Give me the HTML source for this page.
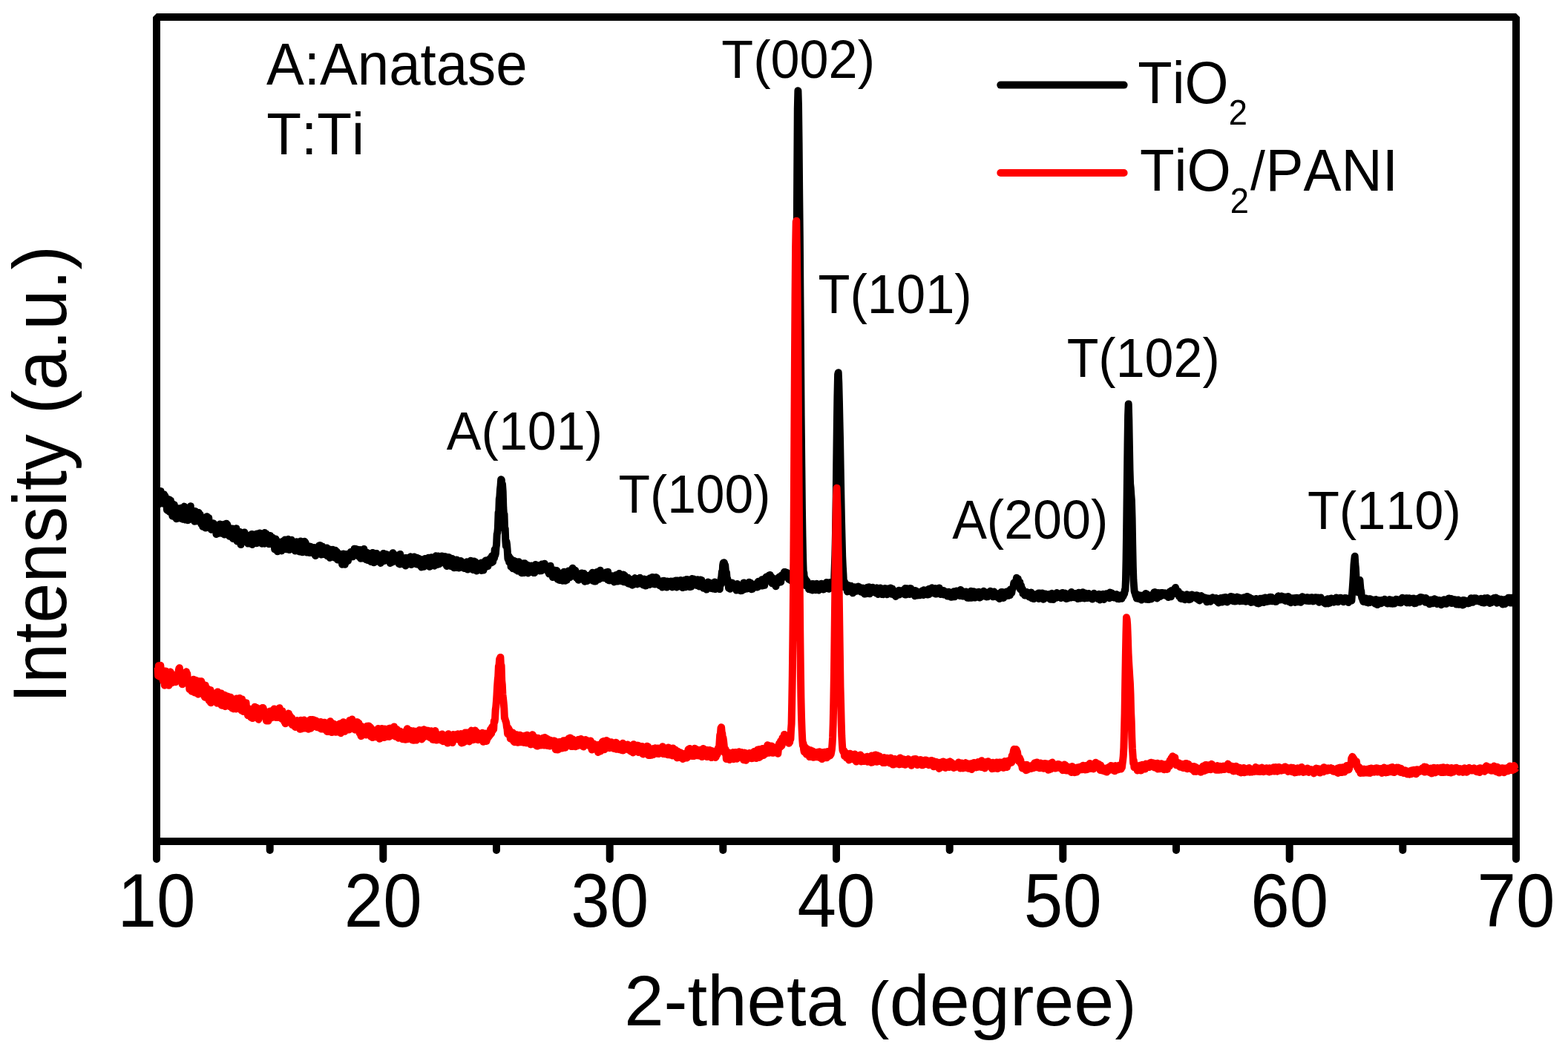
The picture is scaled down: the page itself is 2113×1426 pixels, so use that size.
<!DOCTYPE html>
<html><head><meta charset="utf-8"><title>XRD TiO2 / TiO2-PANI</title>
<style>
html,body{margin:0;padding:0;background:#fff;}
svg{display:block;}
text{font-family:"Liberation Sans",Arial,sans-serif;font-kerning:none;fill:#000;}
</style></head><body>
<svg width="2113" height="1426" viewBox="0 0 2113 1426">
<rect width="2113" height="1426" fill="#fff"/>
<rect x="211" y="23" width="1832" height="1111" fill="none" stroke="#000" stroke-width="10" stroke-linejoin="bevel"/>
<g fill="none" stroke-linejoin="round">
<path d="M211.0 669.6L211.6 678.9 212.2 663.0 212.8 680.4 213.4 666.8 214.1 669.1 214.7 678.5 215.3 669.2 215.9 672.6 216.5 662.0 217.1 676.6 217.7 672.6 218.3 668.9 218.9 678.6 219.5 668.3 220.2 672.7 220.8 666.3 221.4 671.4 222.0 667.6 222.6 669.0 223.2 679.6 223.8 673.3 224.4 678.3 225.0 687.4 225.6 687.8 226.3 683.6 226.9 680.9 227.5 675.7 228.1 673.3 228.7 690.0 229.3 682.3 229.9 674.8 230.5 687.9 231.1 691.0 231.7 688.7 232.4 695.7 233.0 679.4 233.6 689.2 234.2 687.4 234.8 680.5 235.4 691.7 236.0 696.6 236.6 691.9 237.2 685.5 237.8 699.2 238.5 692.7 239.1 691.4 239.7 695.7 240.3 685.2 240.9 698.4 241.5 694.8 242.1 696.2 242.7 685.4 243.3 697.8 243.9 687.2 244.6 684.5 245.2 699.2 245.8 698.4 246.4 699.8 247.0 691.0 247.6 687.1 248.2 682.6 248.8 695.1 249.4 697.2 250.0 700.6 250.7 688.9 251.3 687.1 251.9 694.9 252.5 698.3 253.1 701.2 253.7 685.5 254.3 690.6 254.9 698.1 255.5 688.0 256.1 692.4 256.8 682.3 257.4 695.8 258.0 699.3 258.6 698.1 259.2 699.7 259.8 697.0 260.4 689.5 261.0 699.7 261.6 689.3 262.2 702.7 262.9 688.9 263.5 702.6 264.1 690.5 264.7 695.2 265.3 694.5 265.9 702.2 266.5 693.3 267.1 698.3 267.7 690.9 268.3 693.8 269.0 698.3 269.6 693.4 270.2 703.3 270.8 699.4 271.4 706.5 272.0 705.3 272.6 700.8 273.2 709.7 273.8 705.4 274.4 708.9 275.1 699.1 275.7 703.2 276.3 698.0 276.9 711.6 277.5 698.1 278.1 699.4 278.7 696.2 279.3 700.0 279.9 707.6 280.5 707.6 281.2 697.9 281.8 702.9 282.4 703.9 283.0 708.1 283.6 705.5 284.2 708.1 284.8 713.9 285.4 712.8 286.0 708.2 286.6 708.8 287.3 708.6 287.9 705.3 288.5 706.6 289.1 707.7 289.7 709.5 290.3 710.4 290.9 714.9 291.5 720.1 292.1 717.7 292.7 717.1 293.4 715.9 294.0 713.5 294.6 718.9 295.2 716.1 295.8 713.1 296.4 706.4 297.0 714.1 297.6 709.4 298.2 709.3 298.8 715.7 299.5 719.1 300.1 710.9 300.7 718.8 301.3 713.7 301.9 706.7 302.5 720.5 303.1 711.0 303.7 710.4 304.3 719.5 304.9 705.8 305.6 716.4 306.2 706.9 306.8 711.5 307.4 709.8 308.0 720.5 308.6 713.3 309.2 722.7 309.8 718.0 310.4 720.2 311.0 718.2 311.7 714.6 312.3 715.4 312.9 724.4 313.5 712.4 314.1 726.0 314.7 724.2 315.3 717.2 315.9 722.6 316.5 717.3 317.1 718.6 317.8 720.6 318.4 712.2 319.0 719.9 319.6 729.6 320.2 718.7 320.8 727.2 321.4 722.5 322.0 718.7 322.6 729.9 323.2 717.1 323.9 722.1 324.5 734.1 325.1 721.6 325.7 730.7 326.3 725.1 326.9 729.5 327.5 728.1 328.1 723.3 328.7 730.1 329.3 717.6 330.0 724.4 330.6 723.8 331.2 725.4 331.8 720.6 332.4 722.1 333.0 727.9 333.6 725.3 334.2 732.6 334.8 728.3 335.4 732.5 336.1 729.4 336.7 727.8 337.3 723.7 337.9 731.6 338.5 722.8 339.1 720.0 339.7 733.9 340.3 727.9 340.9 732.2 341.5 729.5 342.2 730.5 342.8 720.4 343.4 721.9 344.0 729.7 344.6 728.2 345.2 720.7 345.8 732.2 346.4 719.4 347.0 725.4 347.6 719.5 348.3 729.3 348.9 722.0 349.5 719.6 350.1 718.4 350.7 720.3 351.3 721.3 351.9 726.9 352.5 724.2 353.1 732.7 353.7 731.7 354.4 729.9 355.0 728.3 355.6 731.1 356.2 732.7 356.8 717.9 357.4 719.3 358.0 722.8 358.6 719.5 359.2 727.1 359.8 723.4 360.5 723.9 361.1 724.9 361.7 723.3 362.3 733.3 362.9 732.0 363.5 730.0 364.1 722.1 364.7 728.5 365.3 733.1 365.9 726.1 366.6 729.9 367.2 724.8 367.8 726.9 368.4 728.5 369.0 732.4 369.6 733.7 370.2 740.3 370.8 730.9 371.4 726.5 372.0 738.6 372.7 728.5 373.3 730.1 373.9 743.2 374.5 740.3 375.1 734.3 375.7 731.2 376.3 735.2 376.9 733.8 377.5 741.7 378.1 734.9 378.8 730.6 379.4 742.4 380.0 737.5 380.6 730.0 381.2 729.6 381.8 734.6 382.4 728.8 383.0 736.2 383.6 735.9 384.2 727.4 384.9 738.3 385.5 738.4 386.1 740.3 386.7 736.9 387.3 737.7 387.9 728.9 388.5 726.8 389.1 727.9 389.7 741.1 390.3 735.3 391.0 740.4 391.6 732.0 392.2 737.5 392.8 727.7 393.4 730.0 394.0 732.0 394.6 736.7 395.2 737.6 395.8 736.9 396.4 735.5 397.1 737.0 397.7 742.5 398.3 735.6 398.9 741.2 399.5 730.2 400.1 735.1 400.7 736.7 401.3 737.8 401.9 733.5 402.5 735.7 403.2 743.4 403.8 738.2 404.4 737.1 405.0 729.6 405.6 730.1 406.2 732.3 406.8 731.5 407.4 744.2 408.0 730.2 408.6 734.8 409.3 729.9 409.9 738.3 410.5 729.8 411.1 730.7 411.7 731.6 412.3 736.9 412.9 741.6 413.5 744.6 414.1 737.1 414.7 737.2 415.4 744.7 416.0 744.5 416.6 736.5 417.2 745.1 417.8 744.9 418.4 736.7 419.0 744.5 419.6 737.7 420.2 738.6 420.8 741.8 421.5 742.1 422.1 742.4 422.7 742.4 423.3 738.0 423.9 747.2 424.5 740.4 425.1 748.9 425.7 743.9 426.3 740.4 426.9 738.7 427.6 741.5 428.2 740.4 428.8 743.6 429.4 741.6 430.0 735.4 430.6 746.6 431.2 735.1 431.8 746.1 432.4 745.8 433.0 747.6 433.7 743.9 434.3 736.4 434.9 743.1 435.5 743.3 436.1 747.0 436.7 744.1 437.3 746.8 437.9 740.2 438.5 743.0 439.1 744.2 439.8 742.6 440.4 738.4 441.0 749.3 441.6 746.3 442.2 748.8 442.8 742.2 443.4 750.1 444.0 748.6 444.6 751.8 445.2 740.7 445.9 745.0 446.5 743.8 447.1 746.6 447.7 742.4 448.3 740.8 448.9 745.1 449.5 747.9 450.1 743.0 450.7 751.4 451.3 743.1 452.0 741.7 452.6 750.1 453.2 746.2 453.8 743.6 454.4 744.3 455.0 754.5 455.6 754.6 456.2 751.6 456.8 747.0 457.4 753.7 458.1 746.8 458.7 749.0 459.3 753.1 459.9 751.3 460.5 752.6 461.1 760.7 461.7 750.2 462.3 756.1 462.9 746.6 463.5 747.3 464.2 749.7 464.8 760.7 465.4 757.2 466.0 758.3 466.6 746.9 467.2 756.0 467.8 753.0 468.4 752.1 469.0 755.7 469.6 749.9 470.3 751.9 470.9 748.1 471.5 748.8 472.1 750.6 472.7 743.9 473.3 744.9 473.9 745.9 474.5 745.9 475.1 750.4 475.7 746.4 476.4 745.2 477.0 748.9 477.6 739.8 478.2 739.7 478.8 743.7 479.4 740.0 480.0 745.8 480.6 745.6 481.2 740.5 481.8 748.6 482.5 746.5 483.1 743.1 483.7 750.3 484.3 750.2 484.9 741.5 485.5 741.1 486.1 752.7 486.7 742.7 487.3 749.6 487.9 743.4 488.6 743.8 489.2 746.9 489.8 752.5 490.4 740.0 491.0 742.7 491.6 750.1 492.2 746.5 492.8 745.0 493.4 754.3 494.0 744.5 494.7 751.2 495.3 754.9 495.9 752.4 496.5 751.4 497.1 751.5 497.7 751.9 498.3 745.9 498.9 751.2 499.5 754.2 500.1 756.9 500.8 756.8 501.4 756.3 502.0 745.1 502.6 750.1 503.2 751.7 503.8 758.3 504.4 752.7 505.0 750.5 505.6 746.1 506.2 748.8 506.9 756.8 507.5 746.0 508.1 748.7 508.7 750.3 509.3 753.5 509.9 750.7 510.5 756.4 511.1 748.5 511.7 754.0 512.3 756.9 513.0 758.9 513.6 757.5 514.2 748.2 514.8 757.0 515.4 753.6 516.0 750.9 516.6 746.0 517.2 748.0 517.8 755.9 518.4 746.8 519.1 750.9 519.7 748.9 520.3 755.1 520.9 749.9 521.5 747.3 522.1 749.9 522.7 749.1 523.3 754.5 523.9 749.8 524.5 755.2 525.2 753.1 525.8 759.0 526.4 755.9 527.0 751.7 527.6 752.5 528.2 752.1 528.8 757.6 529.4 745.3 530.0 748.8 530.6 751.4 531.3 750.1 531.9 752.9 532.5 751.4 533.1 750.4 533.7 754.1 534.3 748.8 534.9 753.0 535.5 755.8 536.1 748.2 536.7 750.0 537.4 759.6 538.0 760.1 538.6 760.4 539.2 746.9 539.8 758.2 540.4 760.0 541.0 759.4 541.6 758.2 542.2 757.0 542.8 758.4 543.5 757.7 544.1 760.7 544.7 758.1 545.3 754.3 545.9 752.0 546.5 762.5 547.1 760.6 547.7 751.9 548.3 761.1 548.9 754.2 549.6 758.2 550.2 755.1 550.8 752.5 551.4 751.7 552.0 751.3 552.6 750.8 553.2 750.4 553.8 751.0 554.4 760.9 555.0 756.2 555.7 751.4 556.3 756.8 556.9 754.8 557.5 754.5 558.1 750.5 558.7 753.4 559.3 759.5 559.9 751.4 560.5 753.9 561.1 760.4 561.8 751.8 562.4 757.4 563.0 755.0 563.6 759.5 564.2 752.8 564.8 756.8 565.4 754.3 566.0 761.8 566.6 762.9 567.2 759.2 567.9 764.4 568.5 760.7 569.1 761.7 569.7 763.0 570.3 754.0 570.9 763.8 571.5 755.8 572.1 758.0 572.7 752.9 573.3 761.9 574.0 754.5 574.6 760.7 575.2 754.5 575.8 756.1 576.4 756.1 577.0 753.2 577.6 751.7 578.2 762.1 578.8 763.8 579.4 755.3 580.1 753.6 580.7 755.9 581.3 751.2 581.9 758.8 582.5 754.4 583.1 757.1 583.7 761.8 584.3 760.8 584.9 761.8 585.5 762.7 586.2 757.5 586.8 756.3 587.4 749.3 588.0 750.9 588.6 756.4 589.2 761.0 589.8 754.5 590.4 749.5 591.0 752.5 591.6 760.2 592.3 751.7 592.9 751.4 593.5 752.1 594.1 756.2 594.7 758.6 595.3 749.6 595.9 753.7 596.5 753.2 597.1 751.9 597.7 754.2 598.4 757.5 599.0 750.3 599.6 755.7 600.2 750.3 600.8 756.0 601.4 759.5 602.0 763.0 602.6 756.5 603.2 754.2 603.8 757.9 604.5 754.9 605.1 751.1 605.7 756.7 606.3 760.8 606.9 761.6 607.5 763.0 608.1 754.6 608.7 754.2 609.3 752.9 609.9 757.4 610.6 763.6 611.2 756.1 611.8 765.3 612.4 762.9 613.0 756.5 613.6 762.6 614.2 764.8 614.8 765.1 615.4 754.5 616.0 763.4 616.7 762.8 617.3 755.7 617.9 756.2 618.5 765.4 619.1 757.9 619.7 757.9 620.3 764.0 620.9 756.0 621.5 760.4 622.1 759.7 622.8 761.6 623.4 763.1 624.0 762.6 624.6 759.5 625.2 766.0 625.8 764.1 626.4 765.6 627.0 758.9 627.6 764.1 628.2 759.2 628.9 757.3 629.5 762.5 630.1 767.5 630.7 765.5 631.3 758.6 631.9 758.0 632.5 764.5 633.1 763.3 633.7 765.1 634.3 755.8 635.0 766.4 635.6 760.7 636.2 758.2 636.8 759.2 637.4 768.0 638.0 768.1 638.6 756.6 639.2 760.2 639.8 766.4 640.4 757.2 641.1 758.2 641.7 759.1 642.3 769.5 642.9 761.3 643.5 761.2 644.1 766.8 644.7 761.2 645.3 766.2 645.9 761.2 646.5 760.2 647.2 762.2 647.8 759.6 648.4 758.5 649.0 769.0 649.6 768.5 650.2 761.3 650.8 765.5 651.4 768.6 652.0 760.6 652.6 764.2 653.3 765.1 653.9 756.1 654.5 755.5 655.1 763.0 655.7 762.7 656.3 755.3 656.9 763.2 657.5 763.1 658.1 757.2 658.7 756.6 659.4 753.9 660.0 756.6 660.6 752.5 661.2 758.3 661.8 758.7 662.4 756.9 663.0 749.4 663.6 756.0 664.2 757.2 664.8 747.9 665.5 752.5 666.1 752.2 666.7 740.7 667.3 748.3 667.9 745.8 668.5 737.6 669.1 734.0 669.7 720.2 670.3 717.9 670.9 711.9 671.6 691.0 672.2 690.8 672.8 672.4 673.4 669.5 674.0 659.7 674.6 654.7 675.2 646.2 675.8 646.6 676.4 656.5 677.0 652.8 677.7 662.7 678.3 683.6 678.9 693.2 679.5 693.0 680.1 713.2 680.7 712.2 681.3 728.6 681.9 736.0 682.5 730.1 683.1 734.2 683.8 742.7 684.4 752.8 685.0 754.3 685.6 749.8 686.2 757.8 686.8 751.5 687.4 753.1 688.0 752.7 688.6 763.9 689.2 761.8 689.9 758.7 690.5 756.5 691.1 766.2 691.7 759.1 692.3 755.7 692.9 759.5 693.5 763.5 694.1 764.9 694.7 756.7 695.3 768.1 696.0 765.5 696.6 757.6 697.2 767.2 697.8 769.6 698.4 768.5 699.0 757.2 699.6 763.5 700.2 764.5 700.8 769.6 701.4 765.2 702.1 761.0 702.7 772.2 703.3 772.2 703.9 765.4 704.5 759.5 705.1 769.8 705.7 768.9 706.3 772.0 706.9 759.2 707.5 765.3 708.2 763.3 708.8 761.6 709.4 769.7 710.0 765.2 710.6 761.5 711.2 763.0 711.8 772.4 712.4 770.4 713.0 765.2 713.6 770.9 714.3 763.7 714.9 770.6 715.5 771.1 716.1 762.4 716.7 768.2 717.3 769.9 717.9 771.0 718.5 770.2 719.1 772.1 719.7 770.3 720.4 772.1 721.0 765.3 721.6 760.9 722.2 763.8 722.8 765.1 723.4 761.7 724.0 762.4 724.6 767.0 725.2 763.0 725.8 763.1 726.5 768.5 727.1 769.4 727.7 768.6 728.3 762.6 728.9 767.3 729.5 769.3 730.1 760.4 730.7 760.9 731.3 767.9 731.9 763.3 732.6 762.8 733.2 764.0 733.8 759.8 734.4 766.2 735.0 762.2 735.6 764.7 736.2 765.1 736.8 766.1 737.4 763.5 738.0 768.7 738.7 770.8 739.3 766.4 739.9 773.3 740.5 773.0 741.1 766.2 741.7 762.7 742.3 772.4 742.9 766.8 743.5 768.4 744.1 771.9 744.8 778.0 745.4 769.4 746.0 771.1 746.6 772.5 747.2 774.5 747.8 768.6 748.4 774.1 749.0 774.3 749.6 775.9 750.2 769.0 750.9 769.8 751.5 780.7 752.1 779.4 752.7 779.6 753.3 781.0 753.9 781.9 754.5 775.6 755.1 781.0 755.7 779.7 756.3 779.4 757.0 781.1 757.6 776.1 758.2 782.8 758.8 776.8 759.4 773.6 760.0 770.7 760.6 778.4 761.2 774.4 761.8 782.7 762.4 772.1 763.1 774.1 763.7 781.7 764.3 775.1 764.9 779.5 765.5 778.6 766.1 769.5 766.7 770.8 767.3 772.1 767.9 778.0 768.5 770.6 769.2 771.9 769.8 771.5 770.4 769.3 771.0 775.0 771.6 765.7 772.2 768.1 772.8 776.1 773.4 774.2 774.0 772.5 774.6 770.2 775.3 768.7 775.9 772.9 776.5 778.5 777.1 775.0 777.7 774.8 778.3 780.0 778.9 779.4 779.5 781.7 780.1 781.4 780.7 777.7 781.4 774.1 782.0 778.5 782.6 775.1 783.2 780.6 783.8 772.4 784.4 776.3 785.0 781.0 785.6 776.9 786.2 779.4 786.8 773.1 787.5 776.0 788.1 783.7 788.7 779.9 789.3 776.8 789.9 778.5 790.5 781.6 791.1 781.7 791.7 782.9 792.3 775.9 792.9 775.8 793.6 780.2 794.2 778.9 794.8 778.9 795.4 775.1 796.0 775.6 796.6 780.0 797.2 775.1 797.8 780.0 798.4 771.7 799.0 782.7 799.7 774.4 800.3 778.3 800.9 783.6 801.5 775.3 802.1 775.0 802.7 783.4 803.3 781.7 803.9 776.3 804.5 771.0 805.1 777.3 805.8 773.0 806.4 773.1 807.0 780.8 807.6 776.4 808.2 773.2 808.8 768.8 809.4 772.7 810.0 779.2 810.6 772.4 811.2 773.8 811.9 777.9 812.5 773.0 813.1 776.9 813.7 779.0 814.3 773.8 814.9 775.9 815.5 776.6 816.1 774.7 816.7 772.7 817.3 771.2 818.0 776.3 818.6 781.2 819.2 770.8 819.8 780.6 820.4 782.3 821.0 777.3 821.6 782.4 822.2 779.5 822.8 778.9 823.4 779.5 824.1 779.5 824.7 781.8 825.3 776.2 825.9 781.7 826.5 778.6 827.1 780.1 827.7 784.4 828.3 776.2 828.9 778.7 829.5 777.2 830.2 774.9 830.8 780.8 831.4 779.9 832.0 783.6 832.6 779.8 833.2 777.2 833.8 782.7 834.4 773.1 835.0 776.4 835.6 781.8 836.3 774.9 836.9 777.2 837.5 783.3 838.1 777.4 838.7 775.0 839.3 783.1 839.9 774.5 840.5 784.2 841.1 777.2 841.7 775.5 842.4 779.0 843.0 778.9 843.6 784.8 844.2 782.9 844.8 779.9 845.4 780.8 846.0 778.5 846.6 786.5 847.2 781.1 847.8 786.3 848.5 783.5 849.1 787.3 849.7 780.9 850.3 782.8 850.9 782.9 851.5 788.2 852.1 788.8 852.7 787.1 853.3 782.5 853.9 787.7 854.6 785.7 855.2 783.1 855.8 779.1 856.4 780.6 857.0 786.2 857.6 780.8 858.2 784.5 858.8 787.4 859.4 784.7 860.0 784.6 860.7 780.9 861.3 779.8 861.9 779.3 862.5 778.7 863.1 781.5 863.7 786.8 864.3 785.3 864.9 782.4 865.5 782.5 866.1 784.5 866.8 788.4 867.4 786.9 868.0 780.5 868.6 785.4 869.2 781.6 869.8 789.5 870.4 789.4 871.0 785.6 871.6 787.2 872.2 786.3 872.9 787.4 873.5 781.1 874.1 780.5 874.7 786.3 875.3 788.0 875.9 779.2 876.5 783.0 877.1 782.2 877.7 781.3 878.3 786.0 879.0 777.9 879.6 780.6 880.2 781.4 880.8 787.2 881.4 783.6 882.0 783.7 882.6 787.5 883.2 778.3 883.8 782.8 884.4 778.2 885.1 778.8 885.7 785.2 886.3 786.4 886.9 785.0 887.5 784.8 888.1 787.4 888.7 789.1 889.3 788.6 889.9 787.8 890.5 783.8 891.2 788.3 891.8 783.3 892.4 791.5 893.0 783.1 893.6 790.7 894.2 783.6 894.8 782.8 895.4 784.0 896.0 785.9 896.6 783.3 897.3 783.6 897.9 791.0 898.5 791.6 899.1 783.4 899.7 786.4 900.3 785.9 900.9 790.4 901.5 788.7 902.1 785.7 902.7 789.3 903.4 787.6 904.0 783.4 904.6 790.2 905.2 786.2 905.8 791.4 906.4 788.9 907.0 783.4 907.6 789.4 908.2 788.5 908.8 787.5 909.5 785.8 910.1 789.2 910.7 782.4 911.3 787.7 911.9 791.5 912.5 783.3 913.1 782.4 913.7 785.3 914.3 786.6 914.9 785.4 915.6 787.0 916.2 789.0 916.8 790.2 917.4 782.0 918.0 786.3 918.6 788.7 919.2 782.5 919.8 792.1 920.4 789.0 921.0 786.9 921.7 786.2 922.3 782.0 922.9 781.8 923.5 788.9 924.1 791.2 924.7 789.7 925.3 780.9 925.9 780.9 926.5 785.7 927.1 787.7 927.8 787.8 928.4 790.5 929.0 790.7 929.6 791.1 930.2 783.6 930.8 784.6 931.4 790.7 932.0 787.3 932.6 780.0 933.2 788.8 933.9 785.5 934.5 780.5 935.1 782.6 935.7 784.8 936.3 785.8 936.9 783.7 937.5 787.3 938.1 785.1 938.7 789.0 939.3 788.4 940.0 781.2 940.6 781.6 941.2 789.6 941.8 786.9 942.4 790.4 943.0 785.0 943.6 782.3 944.2 781.4 944.8 789.7 945.4 782.0 946.1 788.6 946.7 787.3 947.3 789.8 947.9 792.7 948.5 785.8 949.1 788.9 949.7 792.7 950.3 786.2 950.9 786.2 951.5 786.8 952.2 794.6 952.8 793.2 953.4 786.1 954.0 784.4 954.6 790.2 955.2 787.2 955.8 785.2 956.4 785.6 957.0 788.4 957.6 787.0 958.3 793.1 958.9 789.1 959.5 792.6 960.1 792.8 960.7 793.6 961.3 789.9 961.9 791.2 962.5 790.3 963.1 784.4 963.7 794.1 964.4 785.2 965.0 789.1 965.6 790.8 966.2 791.5 966.8 788.6 967.4 790.3 968.0 792.9 968.6 791.5 969.2 792.0 969.8 794.1 970.5 784.7 971.1 788.2 971.7 780.0 972.3 777.7 972.9 770.6 973.5 773.7 974.1 761.8 974.7 758.6 975.3 759.2 975.9 758.3 976.6 762.5 977.2 761.7 977.8 768.6 978.4 775.1 979.0 772.0 979.6 780.2 980.2 779.8 980.8 787.0 981.4 785.7 982.0 792.6 982.7 788.8 983.3 786.0 983.9 793.7 984.5 789.0 985.1 785.5 985.7 788.1 986.3 789.5 986.9 785.8 987.5 786.9 988.1 789.4 988.8 790.2 989.4 791.3 990.0 790.9 990.6 791.2 991.2 792.6 991.8 791.8 992.4 795.6 993.0 795.4 993.6 787.1 994.2 788.5 994.9 788.3 995.5 790.0 996.1 790.4 996.7 795.1 997.3 794.7 997.9 796.3 998.5 793.2 999.1 792.8 999.7 796.1 1000.3 792.0 1001.0 789.8 1001.6 788.2 1002.2 785.5 1002.8 794.4 1003.4 792.2 1004.0 788.9 1004.6 793.6 1005.2 791.9 1005.8 788.9 1006.4 793.6 1007.1 793.1 1007.7 788.2 1008.3 788.2 1008.9 785.3 1009.5 784.7 1010.1 787.4 1010.7 787.0 1011.3 785.5 1011.9 791.9 1012.5 794.2 1013.2 791.5 1013.8 794.0 1014.4 793.2 1015.0 791.4 1015.6 790.2 1016.2 788.3 1016.8 790.3 1017.4 788.1 1018.0 787.3 1018.6 790.3 1019.3 791.0 1019.9 790.2 1020.5 791.5 1021.1 787.0 1021.7 783.8 1022.3 785.1 1022.9 786.3 1023.5 789.1 1024.1 787.3 1024.7 789.6 1025.4 785.0 1026.0 787.0 1026.6 781.3 1027.2 788.2 1027.8 789.5 1028.4 789.2 1029.0 788.8 1029.6 781.3 1030.2 788.8 1030.8 783.7 1031.5 779.8 1032.1 778.2 1032.7 777.4 1033.3 782.4 1033.9 781.5 1034.5 782.2 1035.1 780.9 1035.7 779.4 1036.3 775.4 1036.9 781.4 1037.6 775.0 1038.2 781.8 1038.8 776.9 1039.4 777.4 1040.0 785.6 1040.6 786.4 1041.2 784.1 1041.8 780.2 1042.4 783.2 1043.0 782.1 1043.7 780.2 1044.3 781.6 1044.9 780.3 1045.5 790.2 1046.1 782.6 1046.7 783.4 1047.3 781.5 1047.9 785.1 1048.5 783.9 1049.1 785.3 1049.8 777.8 1050.4 779.3 1051.0 782.7 1051.6 782.4 1052.2 784.5 1052.8 775.8 1053.4 778.4 1054.0 777.8 1054.6 777.9 1055.2 775.9 1055.9 778.1 1056.5 771.9 1057.1 770.9 1057.7 773.0 1058.3 771.0 1058.9 774.0 1059.5 776.7 1060.1 771.8 1060.7 775.8 1061.3 777.3 1062.0 777.8 1062.6 773.3 1063.2 780.9 1063.8 781.1 1064.4 777.8 1065.0 779.0 1065.6 781.9 1066.2 782.7 1066.8 776.3 1067.4 779.8 1068.1 775.1 1068.7 778.2 1069.3 774.0 1069.9 761.7 1070.5 745.8 1071.1 718.3 1071.7 670.8 1072.3 582.9 1072.9 479.0 1073.5 356.1 1074.2 238.5 1074.8 147.1 1075.4 122.2 1076.0 142.2 1076.6 192.3 1077.2 261.4 1077.8 318.6 1078.4 399.1 1079.0 473.7 1079.6 560.9 1080.3 628.7 1080.9 685.2 1081.5 723.6 1082.1 752.5 1082.7 771.4 1083.3 771.9 1083.9 781.7 1084.5 778.8 1085.1 781.7 1085.7 789.3 1086.4 782.3 1087.0 789.5 1087.6 783.7 1088.2 789.6 1088.8 791.0 1089.4 787.2 1090.0 794.1 1090.6 788.6 1091.2 791.1 1091.8 789.1 1092.5 794.7 1093.1 790.8 1093.7 790.2 1094.3 787.0 1094.9 795.5 1095.5 786.9 1096.1 789.4 1096.7 793.1 1097.3 790.2 1097.9 792.1 1098.6 790.1 1099.2 795.3 1099.8 788.3 1100.4 786.7 1101.0 787.6 1101.6 791.2 1102.2 792.4 1102.8 794.3 1103.4 795.5 1104.0 790.2 1104.7 793.9 1105.3 790.1 1105.9 789.1 1106.5 786.7 1107.1 794.1 1107.7 788.9 1108.3 790.8 1108.9 789.6 1109.5 794.5 1110.1 788.1 1110.8 790.4 1111.4 792.5 1112.0 786.5 1112.6 792.4 1113.2 789.9 1113.8 785.0 1114.4 792.9 1115.0 788.0 1115.6 788.0 1116.2 790.8 1116.9 793.8 1117.5 786.5 1118.1 785.1 1118.7 790.5 1119.3 790.3 1119.9 787.9 1120.5 789.0 1121.1 792.0 1121.7 790.3 1122.3 787.2 1123.0 789.1 1123.6 787.0 1124.2 780.3 1124.8 762.9 1125.4 747.3 1126.0 718.7 1126.6 681.0 1127.2 628.0 1127.8 577.5 1128.4 535.9 1129.1 504.6 1129.7 502.2 1130.3 515.9 1130.9 539.8 1131.5 568.4 1132.1 594.5 1132.7 632.0 1133.3 666.2 1133.9 698.0 1134.5 722.6 1135.2 750.5 1135.8 763.6 1136.4 773.5 1137.0 787.2 1137.6 791.2 1138.2 784.7 1138.8 791.7 1139.4 786.7 1140.0 791.9 1140.6 793.5 1141.3 793.2 1141.9 797.4 1142.5 793.5 1143.1 789.0 1143.7 796.5 1144.3 790.4 1144.9 793.2 1145.5 792.4 1146.1 796.8 1146.7 789.8 1147.4 792.6 1148.0 793.7 1148.6 795.8 1149.2 799.3 1149.8 792.6 1150.4 793.0 1151.0 795.8 1151.6 791.2 1152.2 794.3 1152.8 793.5 1153.5 796.6 1154.1 796.1 1154.7 796.7 1155.3 794.6 1155.9 792.3 1156.5 790.5 1157.1 796.1 1157.7 793.1 1158.3 791.2 1158.9 794.7 1159.6 794.2 1160.2 797.6 1160.8 793.9 1161.4 794.6 1162.0 798.3 1162.6 797.9 1163.2 792.6 1163.8 796.2 1164.4 799.3 1165.0 800.6 1165.7 800.1 1166.3 794.6 1166.9 800.3 1167.5 793.1 1168.1 794.7 1168.7 791.8 1169.3 796.3 1169.9 797.8 1170.5 797.7 1171.1 791.3 1171.8 800.3 1172.4 793.3 1173.0 797.1 1173.6 798.4 1174.2 797.3 1174.8 795.0 1175.4 795.4 1176.0 791.8 1176.6 794.3 1177.2 798.0 1177.9 797.3 1178.5 797.5 1179.1 797.3 1179.7 794.2 1180.3 799.4 1180.9 793.7 1181.5 792.3 1182.1 797.3 1182.7 793.3 1183.3 800.9 1184.0 797.5 1184.6 793.4 1185.2 792.9 1185.8 798.2 1186.4 792.5 1187.0 793.2 1187.6 796.7 1188.2 797.6 1188.8 801.1 1189.4 794.2 1190.1 801.2 1190.7 796.6 1191.3 800.8 1191.9 793.8 1192.5 793.1 1193.1 795.9 1193.7 793.4 1194.3 796.6 1194.9 800.3 1195.5 801.3 1196.2 793.6 1196.8 795.4 1197.4 796.1 1198.0 794.4 1198.6 797.0 1199.2 793.3 1199.8 793.9 1200.4 792.5 1201.0 795.9 1201.6 800.8 1202.3 793.6 1202.9 800.8 1203.5 795.6 1204.1 800.4 1204.7 801.7 1205.3 799.3 1205.9 800.9 1206.5 800.5 1207.1 803.9 1207.7 802.9 1208.4 799.8 1209.0 798.3 1209.6 796.5 1210.2 799.8 1210.8 796.3 1211.4 795.8 1212.0 801.5 1212.6 799.4 1213.2 797.9 1213.8 800.4 1214.5 796.9 1215.1 796.3 1215.7 799.3 1216.3 799.4 1216.9 795.6 1217.5 795.7 1218.1 798.1 1218.7 795.3 1219.3 801.5 1219.9 793.1 1220.6 800.0 1221.2 801.4 1221.8 797.8 1222.4 793.2 1223.0 798.3 1223.6 794.9 1224.2 798.0 1224.8 795.3 1225.4 793.8 1226.0 800.9 1226.7 793.1 1227.3 793.2 1227.9 800.4 1228.5 800.6 1229.1 796.7 1229.7 797.4 1230.3 800.1 1230.9 799.1 1231.5 799.5 1232.1 797.7 1232.8 803.2 1233.4 796.0 1234.0 799.9 1234.6 796.5 1235.2 797.8 1235.8 798.4 1236.4 802.5 1237.0 801.2 1237.6 799.8 1238.2 802.1 1238.9 802.0 1239.5 802.2 1240.1 798.6 1240.7 800.1 1241.3 800.3 1241.9 796.8 1242.5 796.6 1243.1 801.1 1243.7 796.9 1244.3 802.1 1245.0 795.2 1245.6 796.9 1246.2 800.3 1246.8 795.8 1247.4 797.9 1248.0 796.9 1248.6 795.7 1249.2 795.2 1249.8 801.6 1250.4 796.2 1251.1 794.1 1251.7 801.1 1252.3 793.8 1252.9 798.6 1253.5 797.6 1254.1 798.0 1254.7 799.1 1255.3 794.0 1255.9 792.2 1256.5 796.2 1257.2 796.6 1257.8 794.2 1258.4 799.7 1259.0 793.9 1259.6 797.5 1260.2 797.5 1260.8 793.1 1261.4 800.6 1262.0 795.9 1262.6 797.4 1263.3 794.2 1263.9 796.6 1264.5 797.4 1265.1 798.4 1265.7 792.5 1266.3 796.4 1266.9 797.1 1267.5 801.0 1268.1 797.7 1268.7 798.5 1269.4 796.3 1270.0 796.4 1270.6 800.5 1271.2 795.9 1271.8 801.5 1272.4 798.4 1273.0 801.4 1273.6 799.1 1274.2 801.3 1274.8 801.0 1275.5 797.8 1276.1 798.0 1276.7 803.5 1277.3 798.0 1277.9 802.6 1278.5 797.8 1279.1 800.8 1279.7 799.1 1280.3 798.6 1280.9 798.5 1281.6 804.8 1282.2 802.4 1282.8 801.0 1283.4 801.9 1284.0 804.5 1284.6 802.4 1285.2 797.3 1285.8 798.3 1286.4 804.3 1287.0 801.0 1287.7 801.0 1288.3 797.3 1288.9 796.6 1289.5 797.3 1290.1 798.3 1290.7 799.8 1291.3 797.8 1291.9 800.3 1292.5 799.0 1293.1 799.5 1293.8 803.1 1294.4 795.1 1295.0 801.5 1295.6 802.3 1296.2 797.2 1296.8 803.5 1297.4 797.3 1298.0 803.4 1298.6 797.6 1299.2 799.7 1299.9 800.0 1300.5 801.8 1301.1 802.3 1301.7 797.4 1302.3 804.3 1302.9 801.7 1303.5 805.8 1304.1 799.2 1304.7 801.2 1305.3 805.9 1306.0 802.9 1306.6 800.9 1307.2 801.0 1307.8 805.1 1308.4 796.8 1309.0 805.8 1309.6 801.0 1310.2 803.5 1310.8 800.1 1311.4 803.4 1312.1 797.2 1312.7 800.3 1313.3 803.2 1313.9 805.6 1314.5 801.6 1315.1 798.2 1315.7 804.0 1316.3 803.4 1316.9 798.8 1317.5 799.2 1318.2 801.5 1318.8 797.7 1319.4 804.4 1320.0 805.5 1320.6 803.7 1321.2 805.1 1321.8 800.9 1322.4 798.2 1323.0 802.9 1323.6 803.7 1324.3 802.5 1324.9 797.6 1325.5 796.8 1326.1 802.4 1326.7 798.9 1327.3 800.0 1327.9 800.9 1328.5 798.3 1329.1 804.5 1329.7 798.8 1330.4 800.4 1331.0 804.2 1331.6 801.3 1332.2 799.2 1332.8 802.4 1333.4 797.8 1334.0 797.6 1334.6 796.7 1335.2 802.2 1335.8 802.1 1336.5 802.0 1337.1 801.5 1337.7 801.0 1338.3 804.3 1338.9 800.3 1339.5 797.5 1340.1 798.9 1340.7 800.3 1341.3 801.9 1341.9 799.9 1342.6 800.7 1343.2 800.1 1343.8 804.1 1344.4 805.2 1345.0 800.8 1345.6 805.0 1346.2 799.9 1346.8 806.9 1347.4 801.0 1348.0 803.9 1348.7 803.1 1349.3 798.0 1349.9 802.9 1350.5 798.0 1351.1 801.9 1351.7 802.0 1352.3 805.9 1352.9 799.1 1353.5 798.5 1354.1 803.2 1354.8 800.2 1355.4 802.7 1356.0 799.6 1356.6 803.0 1357.2 797.2 1357.8 799.7 1358.4 801.7 1359.0 802.8 1359.6 797.5 1360.2 799.2 1360.9 802.2 1361.5 794.5 1362.1 799.7 1362.7 798.0 1363.3 799.1 1363.9 794.5 1364.5 793.6 1365.1 792.6 1365.7 789.7 1366.3 785.6 1367.0 788.5 1367.6 786.1 1368.2 785.6 1368.8 785.4 1369.4 781.7 1370.0 778.8 1370.6 783.8 1371.2 785.0 1371.8 780.1 1372.4 785.1 1373.1 785.1 1373.7 789.1 1374.3 784.8 1374.9 793.9 1375.5 794.7 1376.1 789.5 1376.7 794.9 1377.3 793.3 1377.9 793.8 1378.5 800.2 1379.2 799.5 1379.8 798.6 1380.4 799.6 1381.0 802.5 1381.6 797.9 1382.2 800.3 1382.8 798.0 1383.4 800.3 1384.0 798.1 1384.6 799.8 1385.3 803.0 1385.9 800.3 1386.5 804.3 1387.1 804.6 1387.7 802.7 1388.3 801.2 1388.9 800.7 1389.5 798.5 1390.1 804.8 1390.7 806.4 1391.4 800.4 1392.0 805.2 1392.6 804.9 1393.2 807.1 1393.8 805.8 1394.4 802.3 1395.0 801.5 1395.6 803.2 1396.2 801.7 1396.8 805.7 1397.5 800.6 1398.1 805.4 1398.7 806.2 1399.3 799.5 1399.9 806.9 1400.5 805.9 1401.1 799.4 1401.7 803.3 1402.3 799.8 1402.9 803.8 1403.6 800.1 1404.2 804.1 1404.8 799.5 1405.4 800.5 1406.0 807.8 1406.6 806.5 1407.2 805.2 1407.8 806.2 1408.4 800.9 1409.0 800.4 1409.7 802.0 1410.3 805.8 1410.9 805.7 1411.5 805.5 1412.1 802.6 1412.7 803.6 1413.3 805.3 1413.9 803.5 1414.5 800.7 1415.1 802.8 1415.8 807.7 1416.4 807.7 1417.0 800.4 1417.6 799.9 1418.2 800.3 1418.8 803.8 1419.4 808.0 1420.0 804.5 1420.6 801.3 1421.2 806.3 1421.9 801.2 1422.5 803.4 1423.1 805.8 1423.7 805.4 1424.3 798.9 1424.9 800.5 1425.5 801.6 1426.1 804.9 1426.7 803.8 1427.3 802.8 1428.0 801.2 1428.6 801.3 1429.2 804.1 1429.8 806.1 1430.4 801.9 1431.0 801.0 1431.6 798.9 1432.2 799.5 1432.8 799.8 1433.4 802.0 1434.1 805.4 1434.7 801.7 1435.3 799.5 1435.9 800.3 1436.5 807.0 1437.1 803.8 1437.7 800.6 1438.3 805.8 1438.9 806.5 1439.5 803.0 1440.2 801.3 1440.8 800.4 1441.4 800.7 1442.0 805.4 1442.6 803.8 1443.2 805.5 1443.8 798.1 1444.4 798.9 1445.0 802.1 1445.6 803.0 1446.3 801.9 1446.9 802.1 1447.5 805.2 1448.1 803.0 1448.7 800.0 1449.3 802.4 1449.9 800.5 1450.5 803.7 1451.1 803.3 1451.7 804.9 1452.4 807.1 1453.0 803.3 1453.6 798.7 1454.2 802.4 1454.8 802.3 1455.4 805.3 1456.0 806.4 1456.6 799.6 1457.2 805.2 1457.8 799.5 1458.5 803.3 1459.1 798.3 1459.7 806.1 1460.3 802.5 1460.9 800.8 1461.5 806.6 1462.1 799.4 1462.7 801.6 1463.3 802.2 1463.9 800.7 1464.6 801.8 1465.2 806.1 1465.8 800.7 1466.4 803.2 1467.0 799.9 1467.6 804.2 1468.2 801.1 1468.8 801.8 1469.4 803.6 1470.0 802.2 1470.7 806.6 1471.3 802.4 1471.9 807.5 1472.5 805.8 1473.1 800.9 1473.7 804.4 1474.3 799.8 1474.9 800.8 1475.5 802.2 1476.1 805.8 1476.8 805.0 1477.4 804.6 1478.0 802.4 1478.6 803.5 1479.2 806.9 1479.8 804.8 1480.4 803.5 1481.0 800.8 1481.6 801.1 1482.2 808.4 1482.9 803.5 1483.5 807.0 1484.1 801.5 1484.7 804.6 1485.3 801.6 1485.9 806.2 1486.5 800.8 1487.1 803.6 1487.7 808.0 1488.3 806.5 1489.0 804.8 1489.6 803.7 1490.2 804.6 1490.8 800.2 1491.4 800.7 1492.0 802.1 1492.6 799.9 1493.2 801.4 1493.8 802.7 1494.4 805.7 1495.1 806.2 1495.7 798.6 1496.3 802.5 1496.9 804.6 1497.5 805.3 1498.1 800.5 1498.7 799.6 1499.3 801.8 1499.9 802.9 1500.5 801.8 1501.2 802.1 1501.8 805.6 1502.4 802.1 1503.0 801.5 1503.6 801.8 1504.2 803.4 1504.8 801.0 1505.4 803.4 1506.0 807.1 1506.6 806.3 1507.3 805.6 1507.9 807.3 1508.5 807.0 1509.1 804.1 1509.7 805.4 1510.3 802.3 1510.9 804.2 1511.5 806.8 1512.1 803.5 1512.7 802.2 1513.4 803.8 1514.0 802.5 1514.6 799.5 1515.2 800.3 1515.8 794.9 1516.4 795.6 1517.0 780.9 1517.6 753.3 1518.2 710.1 1518.8 656.5 1519.5 600.4 1520.1 560.1 1520.7 544.5 1521.3 565.6 1521.9 600.3 1522.5 633.4 1523.1 652.3 1523.7 657.9 1524.3 667.1 1524.9 674.7 1525.6 698.8 1526.2 734.2 1526.8 763.5 1527.4 781.8 1528.0 789.3 1528.6 796.4 1529.2 799.0 1529.8 799.6 1530.4 803.0 1531.0 800.3 1531.7 806.5 1532.3 804.6 1532.9 802.7 1533.5 802.0 1534.1 805.7 1534.7 807.1 1535.3 805.4 1535.9 802.5 1536.5 807.7 1537.1 805.6 1537.8 806.3 1538.4 808.6 1539.0 806.8 1539.6 802.5 1540.2 806.8 1540.8 803.2 1541.4 807.1 1542.0 804.5 1542.6 804.2 1543.2 800.8 1543.9 800.0 1544.5 807.8 1545.1 800.5 1545.7 801.0 1546.3 804.5 1546.9 807.9 1547.5 804.2 1548.1 808.1 1548.7 805.6 1549.3 806.2 1550.0 806.5 1550.6 807.5 1551.2 807.4 1551.8 801.9 1552.4 804.7 1553.0 802.3 1553.6 805.9 1554.2 802.5 1554.8 800.8 1555.4 798.2 1556.1 804.2 1556.7 798.2 1557.3 804.0 1557.9 801.1 1558.5 804.5 1559.1 806.4 1559.7 801.2 1560.3 802.8 1560.9 802.4 1561.5 799.1 1562.2 803.3 1562.8 803.3 1563.4 804.0 1564.0 800.2 1564.6 799.0 1565.2 801.7 1565.8 799.4 1566.4 801.0 1567.0 799.0 1567.6 802.1 1568.3 802.3 1568.9 801.9 1569.5 802.1 1570.1 799.3 1570.7 801.8 1571.3 802.8 1571.9 800.8 1572.5 802.0 1573.1 803.6 1573.7 801.6 1574.4 805.0 1575.0 803.4 1575.6 801.0 1576.2 797.5 1576.8 800.4 1577.4 797.3 1578.0 804.2 1578.6 796.1 1579.2 796.4 1579.8 796.1 1580.5 800.3 1581.1 800.3 1581.7 798.0 1582.3 798.4 1582.9 793.3 1583.5 797.8 1584.1 792.0 1584.7 794.1 1585.3 798.6 1585.9 798.0 1586.6 800.9 1587.2 800.7 1587.8 796.9 1588.4 799.1 1589.0 804.2 1589.6 803.0 1590.2 804.8 1590.8 800.4 1591.4 807.0 1592.0 803.7 1592.7 801.0 1593.3 804.0 1593.9 807.2 1594.5 804.4 1595.1 807.4 1595.7 807.2 1596.3 804.3 1596.9 808.2 1597.5 806.1 1598.1 802.8 1598.8 801.8 1599.4 801.3 1600.0 804.6 1600.6 806.2 1601.2 802.0 1601.8 802.2 1602.4 808.3 1603.0 806.8 1603.6 803.7 1604.2 807.7 1604.9 803.9 1605.5 801.9 1606.1 802.0 1606.7 801.6 1607.3 805.5 1607.9 803.2 1608.5 805.0 1609.1 805.0 1609.7 804.1 1610.3 803.9 1611.0 803.1 1611.6 802.6 1612.2 802.2 1612.8 807.1 1613.4 802.5 1614.0 807.5 1614.6 807.6 1615.2 808.7 1615.8 807.5 1616.4 809.4 1617.1 805.8 1617.7 806.0 1618.3 805.1 1618.9 803.1 1619.5 806.4 1620.1 807.3 1620.7 807.4 1621.3 804.9 1621.9 806.0 1622.5 806.9 1623.2 807.0 1623.8 805.4 1624.4 807.0 1625.0 806.9 1625.6 805.9 1626.2 811.3 1626.8 808.6 1627.4 810.9 1628.0 808.1 1628.6 807.8 1629.3 806.4 1629.9 810.0 1630.5 807.1 1631.1 810.7 1631.7 808.0 1632.3 809.6 1632.9 809.5 1633.5 807.5 1634.1 805.3 1634.7 806.7 1635.4 808.1 1636.0 808.1 1636.6 806.3 1637.2 807.3 1637.8 807.2 1638.4 809.3 1639.0 806.1 1639.6 808.6 1640.2 810.1 1640.8 811.1 1641.5 809.0 1642.1 812.5 1642.7 811.0 1643.3 811.9 1643.9 807.0 1644.5 809.6 1645.1 806.1 1645.7 810.5 1646.3 807.6 1646.9 811.6 1647.6 806.5 1648.2 805.5 1648.8 807.4 1649.4 805.7 1650.0 808.7 1650.6 808.1 1651.2 804.9 1651.8 806.3 1652.4 805.3 1653.0 805.6 1653.7 811.5 1654.3 808.8 1654.9 810.2 1655.5 807.5 1656.1 806.2 1656.7 807.4 1657.3 809.4 1657.9 807.1 1658.5 804.0 1659.1 807.9 1659.8 807.5 1660.4 808.5 1661.0 804.4 1661.6 810.2 1662.2 807.4 1662.8 806.8 1663.4 806.3 1664.0 810.5 1664.6 806.3 1665.2 806.2 1665.9 810.2 1666.5 807.7 1667.1 804.6 1667.7 805.1 1668.3 809.5 1668.9 806.5 1669.5 805.9 1670.1 805.4 1670.7 810.4 1671.3 806.4 1672.0 809.5 1672.6 809.4 1673.2 809.7 1673.8 809.7 1674.4 806.8 1675.0 810.0 1675.6 807.7 1676.2 805.3 1676.8 805.6 1677.4 807.4 1678.1 806.9 1678.7 810.7 1679.3 807.8 1679.9 807.7 1680.5 803.9 1681.1 804.1 1681.7 805.9 1682.3 806.9 1682.9 810.5 1683.5 805.2 1684.2 810.0 1684.8 809.8 1685.4 807.8 1686.0 811.9 1686.6 808.3 1687.2 811.5 1687.8 807.2 1688.4 809.1 1689.0 810.5 1689.6 811.3 1690.3 808.1 1690.9 807.6 1691.5 810.5 1692.1 811.0 1692.7 807.0 1693.3 810.7 1693.9 813.0 1694.5 809.0 1695.1 811.6 1695.7 813.4 1696.4 809.6 1697.0 812.4 1697.6 812.9 1698.2 806.8 1698.8 807.9 1699.4 807.7 1700.0 811.8 1700.6 809.3 1701.2 806.6 1701.8 808.5 1702.5 807.2 1703.1 812.1 1703.7 811.2 1704.3 810.8 1704.9 805.4 1705.5 807.7 1706.1 807.9 1706.7 807.4 1707.3 810.9 1707.9 808.2 1708.6 810.6 1709.2 809.2 1709.8 807.2 1710.4 805.1 1711.0 810.2 1711.6 808.0 1712.2 804.8 1712.8 807.8 1713.4 804.9 1714.0 806.7 1714.7 810.3 1715.3 806.7 1715.9 806.8 1716.5 806.7 1717.1 808.5 1717.7 808.3 1718.3 807.2 1718.9 810.9 1719.5 808.4 1720.1 810.8 1720.8 807.2 1721.4 806.4 1722.0 804.2 1722.6 803.3 1723.2 807.1 1723.8 805.5 1724.4 804.2 1725.0 807.2 1725.6 808.5 1726.2 808.1 1726.9 803.5 1727.5 805.9 1728.1 808.1 1728.7 806.1 1729.3 806.1 1729.9 808.7 1730.5 804.5 1731.1 804.9 1731.7 808.9 1732.3 809.9 1733.0 804.8 1733.6 804.4 1734.2 809.3 1734.8 807.4 1735.4 805.2 1736.0 804.0 1736.6 808.0 1737.2 806.0 1737.8 811.4 1738.4 811.5 1739.1 810.3 1739.7 812.2 1740.3 807.6 1740.9 806.2 1741.5 810.0 1742.1 807.3 1742.7 810.4 1743.3 806.2 1743.9 807.8 1744.5 810.2 1745.2 811.9 1745.8 806.0 1746.4 808.4 1747.0 811.4 1747.6 805.7 1748.2 808.6 1748.8 810.9 1749.4 808.5 1750.0 811.3 1750.6 808.3 1751.3 807.8 1751.9 805.8 1752.5 808.8 1753.1 811.8 1753.7 810.8 1754.3 804.8 1754.9 804.3 1755.5 804.4 1756.1 809.7 1756.7 806.1 1757.4 805.6 1758.0 808.8 1758.6 805.9 1759.2 806.1 1759.8 808.7 1760.4 809.8 1761.0 805.2 1761.6 805.4 1762.2 805.2 1762.8 810.0 1763.5 807.5 1764.1 809.5 1764.7 805.7 1765.3 810.0 1765.9 806.6 1766.5 808.3 1767.1 805.2 1767.7 807.5 1768.3 809.1 1768.9 805.4 1769.6 810.4 1770.2 809.8 1770.8 809.2 1771.4 809.6 1772.0 806.6 1772.6 805.3 1773.2 806.8 1773.8 805.3 1774.4 807.0 1775.0 809.8 1775.7 806.1 1776.3 805.6 1776.9 810.5 1777.5 811.7 1778.1 808.2 1778.7 806.9 1779.3 810.8 1779.9 805.5 1780.5 807.5 1781.1 810.2 1781.8 810.6 1782.4 811.4 1783.0 809.2 1783.6 811.2 1784.2 808.6 1784.8 812.8 1785.4 812.7 1786.0 813.6 1786.6 812.5 1787.2 811.9 1787.9 808.0 1788.5 810.8 1789.1 807.2 1789.7 813.4 1790.3 812.5 1790.9 810.8 1791.5 812.7 1792.1 812.8 1792.7 808.7 1793.3 810.5 1794.0 806.4 1794.6 806.7 1795.2 811.3 1795.8 807.8 1796.4 809.2 1797.0 808.6 1797.6 811.7 1798.2 810.6 1798.8 808.5 1799.4 810.1 1800.1 806.1 1800.7 805.4 1801.3 806.0 1801.9 808.1 1802.5 806.6 1803.1 811.2 1803.7 808.3 1804.3 808.9 1804.9 810.1 1805.5 808.5 1806.2 805.8 1806.8 805.8 1807.4 807.8 1808.0 807.1 1808.6 806.6 1809.2 808.1 1809.8 810.5 1810.4 811.2 1811.0 806.8 1811.6 806.6 1812.3 806.0 1812.9 806.0 1813.5 808.8 1814.1 807.8 1814.7 809.1 1815.3 806.6 1815.9 809.1 1816.5 809.3 1817.1 812.0 1817.7 811.2 1818.4 806.3 1819.0 808.8 1819.6 807.5 1820.2 805.1 1820.8 807.9 1821.4 809.5 1822.0 800.7 1822.6 793.5 1823.2 785.0 1823.8 775.2 1824.5 761.0 1825.1 754.9 1825.7 749.8 1826.3 760.0 1826.9 765.8 1827.5 778.5 1828.1 793.4 1828.7 792.4 1829.3 798.2 1829.9 791.6 1830.6 786.6 1831.2 784.5 1831.8 782.3 1832.4 781.7 1833.0 788.8 1833.6 795.3 1834.2 796.4 1834.8 803.2 1835.4 806.3 1836.0 805.8 1836.7 809.5 1837.3 811.0 1837.9 810.4 1838.5 811.0 1839.1 806.8 1839.7 809.2 1840.3 806.5 1840.9 810.5 1841.5 811.8 1842.1 808.9 1842.8 809.2 1843.4 811.2 1844.0 812.4 1844.6 807.2 1845.2 810.9 1845.8 812.1 1846.4 807.3 1847.0 808.4 1847.6 809.2 1848.2 810.2 1848.9 809.5 1849.5 810.1 1850.1 808.8 1850.7 808.9 1851.3 808.6 1851.9 811.3 1852.5 813.2 1853.1 813.6 1853.7 810.1 1854.3 808.1 1855.0 812.3 1855.6 814.9 1856.2 815.1 1856.8 813.3 1857.4 811.2 1858.0 809.1 1858.6 811.5 1859.2 812.4 1859.8 812.5 1860.4 812.8 1861.1 813.3 1861.7 808.9 1862.3 811.5 1862.9 811.1 1863.5 811.5 1864.1 811.0 1864.7 811.8 1865.3 808.4 1865.9 807.8 1866.5 810.8 1867.2 812.0 1867.8 811.3 1868.4 811.7 1869.0 810.9 1869.6 813.6 1870.2 813.4 1870.8 808.8 1871.4 812.3 1872.0 811.2 1872.6 808.1 1873.3 808.5 1873.9 813.6 1874.5 812.7 1875.1 808.8 1875.7 811.3 1876.3 813.8 1876.9 811.2 1877.5 811.8 1878.1 812.4 1878.7 811.0 1879.4 813.5 1880.0 808.7 1880.6 808.6 1881.2 807.8 1881.8 810.1 1882.4 809.2 1883.0 810.3 1883.6 808.3 1884.2 810.0 1884.8 810.3 1885.5 809.0 1886.1 812.2 1886.7 809.3 1887.3 810.0 1887.9 812.5 1888.5 811.6 1889.1 810.1 1889.7 805.7 1890.3 810.6 1890.9 808.6 1891.6 808.1 1892.2 810.3 1892.8 806.9 1893.4 810.6 1894.0 810.9 1894.6 806.2 1895.2 806.9 1895.8 812.4 1896.4 806.2 1897.0 811.8 1897.7 811.3 1898.3 810.8 1898.9 806.2 1899.5 812.5 1900.1 807.5 1900.7 812.1 1901.3 809.2 1901.9 808.7 1902.5 808.0 1903.1 806.7 1903.8 807.9 1904.4 806.9 1905.0 806.6 1905.6 811.1 1906.2 813.3 1906.8 809.8 1907.4 811.7 1908.0 813.0 1908.6 807.2 1909.2 809.8 1909.9 809.5 1910.5 807.8 1911.1 810.3 1911.7 808.9 1912.3 806.1 1912.9 811.2 1913.5 805.4 1914.1 805.0 1914.7 809.6 1915.3 807.4 1916.0 809.3 1916.6 805.4 1917.2 805.8 1917.8 807.3 1918.4 807.9 1919.0 810.3 1919.6 808.5 1920.2 807.3 1920.8 811.8 1921.4 806.0 1922.1 809.0 1922.7 807.2 1923.3 811.5 1923.9 810.0 1924.5 810.3 1925.1 809.4 1925.7 810.1 1926.3 814.3 1926.9 810.2 1927.5 811.9 1928.2 808.4 1928.8 812.0 1929.4 813.1 1930.0 811.8 1930.6 813.3 1931.2 812.6 1931.8 808.1 1932.4 810.8 1933.0 807.3 1933.6 807.8 1934.3 811.8 1934.9 808.7 1935.5 808.2 1936.1 812.0 1936.7 814.0 1937.3 811.1 1937.9 810.5 1938.5 811.0 1939.1 809.2 1939.7 809.0 1940.4 811.9 1941.0 809.7 1941.6 811.6 1942.2 815.3 1942.8 814.3 1943.4 813.9 1944.0 814.2 1944.6 812.7 1945.2 811.0 1945.8 808.3 1946.5 812.5 1947.1 808.5 1947.7 809.5 1948.3 809.2 1948.9 813.9 1949.5 813.2 1950.1 809.1 1950.7 809.5 1951.3 810.1 1951.9 806.9 1952.6 806.4 1953.2 810.3 1953.8 809.3 1954.4 810.8 1955.0 812.6 1955.6 807.0 1956.2 813.1 1956.8 807.9 1957.4 812.9 1958.0 807.9 1958.7 810.2 1959.3 812.9 1959.9 808.9 1960.5 808.3 1961.1 809.8 1961.7 810.7 1962.3 814.5 1962.9 810.3 1963.5 813.6 1964.1 814.4 1964.8 808.5 1965.4 810.4 1966.0 814.8 1966.6 812.5 1967.2 809.4 1967.8 811.6 1968.4 811.1 1969.0 814.1 1969.6 814.2 1970.2 810.7 1970.9 815.6 1971.5 809.0 1972.1 815.0 1972.7 808.9 1973.3 811.6 1973.9 810.8 1974.5 813.2 1975.1 811.1 1975.7 809.7 1976.3 812.6 1977.0 810.4 1977.6 810.7 1978.2 813.4 1978.8 809.9 1979.4 810.8 1980.0 812.9 1980.6 812.5 1981.2 811.2 1981.8 810.8 1982.4 806.3 1983.1 809.4 1983.7 809.6 1984.3 807.1 1984.9 811.8 1985.5 810.8 1986.1 806.8 1986.7 806.3 1987.3 806.2 1987.9 806.5 1988.5 810.0 1989.2 806.3 1989.8 808.8 1990.4 807.5 1991.0 809.7 1991.6 810.1 1992.2 809.0 1992.8 808.5 1993.4 808.9 1994.0 810.8 1994.6 809.0 1995.3 806.9 1995.9 806.7 1996.5 810.5 1997.1 812.1 1997.7 811.6 1998.3 811.9 1998.9 812.5 1999.5 807.2 2000.1 812.5 2000.7 806.3 2001.4 809.9 2002.0 808.9 2002.6 806.9 2003.2 810.2 2003.8 806.7 2004.4 805.9 2005.0 810.4 2005.6 811.8 2006.2 809.1 2006.8 812.1 2007.5 813.0 2008.1 811.5 2008.7 808.8 2009.3 812.3 2009.9 807.5 2010.5 807.2 2011.1 810.3 2011.7 811.4 2012.3 807.3 2012.9 807.7 2013.6 805.9 2014.2 806.3 2014.8 807.5 2015.4 806.0 2016.0 805.6 2016.6 811.4 2017.2 812.7 2017.8 807.7 2018.4 809.1 2019.0 807.0 2019.7 810.3 2020.3 808.3 2020.9 811.6 2021.5 811.8 2022.1 811.9 2022.7 807.7 2023.3 812.8 2023.9 813.3 2024.5 809.4 2025.1 814.6 2025.8 810.1 2026.4 809.1 2027.0 808.2 2027.6 814.1 2028.2 814.0 2028.8 811.9 2029.4 808.2 2030.0 807.7 2030.6 811.9 2031.2 811.7 2031.9 810.5 2032.5 805.7 2033.1 806.1 2033.7 809.9 2034.3 805.7 2034.9 811.4 2035.5 812.5 2036.1 812.4 2036.7 811.6 2037.3 805.8 2038.0 806.5 2038.6 812.7 2039.2 809.2 2039.8 806.1 2040.4 805.2 2041.0 806.2 2041.6 812.0 2042.2 808.1 2042.8 811.4" stroke="#000" stroke-width="10"/>
<path d="M212.0 898.9L212.6 899.7 213.2 910.9 213.8 897.2 214.4 908.2 215.1 911.8 215.7 900.3 216.3 897.0 216.9 903.1 217.5 911.7 218.1 910.4 218.7 903.2 219.3 910.6 219.9 917.9 220.5 911.6 221.2 916.0 221.8 923.7 222.4 916.2 223.0 908.5 223.6 904.6 224.2 910.0 224.8 914.3 225.4 922.7 226.0 920.1 226.6 911.1 227.3 923.8 227.9 915.6 228.5 920.1 229.1 908.0 229.7 905.6 230.3 907.5 230.9 920.7 231.5 917.2 232.1 919.9 232.7 915.9 233.4 909.7 234.0 911.6 234.6 912.4 235.2 916.2 235.8 910.1 236.4 919.3 237.0 912.4 237.6 917.9 238.2 912.6 238.8 915.9 239.5 908.0 240.1 910.8 240.7 903.7 241.3 901.1 241.9 900.2 242.5 913.9 243.1 908.8 243.7 917.7 244.3 916.8 244.9 911.0 245.6 922.3 246.2 915.1 246.8 919.5 247.4 912.4 248.0 907.7 248.6 908.7 249.2 908.6 249.8 916.7 250.4 907.3 251.0 905.3 251.7 920.9 252.3 908.4 252.9 915.6 253.5 917.5 254.1 921.2 254.7 918.9 255.3 929.0 255.9 925.9 256.5 924.4 257.1 924.3 257.8 921.5 258.4 931.8 259.0 919.1 259.6 928.1 260.2 925.3 260.8 915.8 261.4 922.1 262.0 933.4 262.6 930.7 263.2 916.7 263.9 921.9 264.5 917.3 265.1 931.6 265.7 919.0 266.3 919.0 266.9 935.7 267.5 925.5 268.1 923.5 268.7 918.2 269.3 925.2 270.0 924.4 270.6 926.6 271.2 918.3 271.8 920.3 272.4 923.5 273.0 929.0 273.6 925.5 274.2 931.6 274.8 926.3 275.4 938.3 276.1 939.7 276.7 923.8 277.3 926.9 277.9 933.9 278.5 939.1 279.1 928.1 279.7 930.3 280.3 936.8 280.9 941.1 281.5 943.9 282.2 944.6 282.8 943.4 283.4 929.9 284.0 947.2 284.6 941.5 285.2 933.0 285.8 935.9 286.4 941.3 287.0 937.2 287.6 937.4 288.3 942.3 288.9 942.4 289.5 938.0 290.1 942.1 290.7 935.3 291.3 946.2 291.9 940.0 292.5 947.8 293.1 932.6 293.7 947.6 294.4 941.4 295.0 944.9 295.6 935.1 296.2 940.6 296.8 937.8 297.4 934.4 298.0 934.5 298.6 950.7 299.2 945.4 299.8 936.7 300.5 938.2 301.1 942.5 301.7 948.6 302.3 936.7 302.9 951.6 303.5 952.2 304.1 941.6 304.7 947.9 305.3 942.8 305.9 949.0 306.6 938.4 307.2 945.8 307.8 947.5 308.4 947.8 309.0 948.5 309.6 952.1 310.2 940.3 310.8 939.8 311.4 945.2 312.0 948.7 312.7 954.5 313.3 949.8 313.9 949.8 314.5 955.4 315.1 944.1 315.7 944.7 316.3 947.1 316.9 944.7 317.5 950.7 318.1 955.6 318.8 941.4 319.4 946.8 320.0 950.1 320.6 947.3 321.2 954.8 321.8 951.0 322.4 953.2 323.0 941.0 323.6 942.9 324.2 941.7 324.9 955.3 325.5 957.7 326.1 942.5 326.7 955.1 327.3 954.2 327.9 959.1 328.5 949.0 329.1 957.8 329.7 950.3 330.3 947.7 331.0 958.5 331.6 947.3 332.2 959.3 332.8 953.4 333.4 956.9 334.0 964.1 334.6 954.9 335.2 957.7 335.8 958.0 336.4 955.9 337.1 962.0 337.7 957.1 338.3 967.1 338.9 964.2 339.5 958.5 340.1 968.1 340.7 959.4 341.3 964.7 341.9 965.4 342.5 957.6 343.2 952.8 343.8 966.1 344.4 966.4 345.0 954.3 345.6 953.8 346.2 959.3 346.8 961.7 347.4 968.4 348.0 968.6 348.6 969.8 349.3 958.9 349.9 963.3 350.5 961.5 351.1 957.9 351.7 954.9 352.3 955.1 352.9 959.0 353.5 954.1 354.1 955.0 354.7 954.1 355.4 964.3 356.0 962.4 356.6 958.3 357.2 963.9 357.8 963.4 358.4 967.1 359.0 971.6 359.6 963.4 360.2 966.6 360.8 961.4 361.5 971.6 362.1 967.4 362.7 960.2 363.3 960.5 363.9 958.6 364.5 958.4 365.1 960.5 365.7 967.5 366.3 961.8 366.9 958.5 367.6 961.8 368.2 958.5 368.8 966.1 369.4 955.5 370.0 958.8 370.6 959.1 371.2 957.4 371.8 966.9 372.4 958.0 373.0 959.5 373.7 956.4 374.3 967.1 374.9 960.4 375.5 964.9 376.1 957.1 376.7 954.2 377.3 958.7 377.9 965.1 378.5 967.2 379.1 960.3 379.8 968.9 380.4 958.2 381.0 965.0 381.6 961.8 382.2 965.0 382.8 962.1 383.4 973.1 384.0 964.7 384.6 975.2 385.2 962.7 385.9 967.0 386.5 967.3 387.1 970.1 387.7 964.8 388.3 967.0 388.9 961.6 389.5 966.1 390.1 973.1 390.7 965.1 391.3 970.5 392.0 968.0 392.6 967.7 393.2 967.8 393.8 976.9 394.4 975.5 395.0 970.5 395.6 971.2 396.2 977.1 396.8 974.9 397.4 979.4 398.1 980.0 398.7 973.0 399.3 976.1 399.9 974.5 400.5 971.1 401.1 974.0 401.7 978.0 402.3 976.7 402.9 978.6 403.5 976.9 404.2 982.8 404.8 979.4 405.4 970.7 406.0 980.6 406.6 982.3 407.2 980.7 407.8 973.6 408.4 974.2 409.0 973.3 409.6 970.5 410.3 976.1 410.9 981.5 411.5 980.1 412.1 978.5 412.7 981.5 413.3 978.6 413.9 973.7 414.5 980.5 415.1 973.9 415.7 982.7 416.4 974.1 417.0 970.8 417.6 978.9 418.2 970.0 418.8 981.7 419.4 974.5 420.0 980.4 420.6 970.1 421.2 976.8 421.8 978.5 422.5 970.3 423.1 978.1 423.7 971.4 424.3 973.2 424.9 974.0 425.5 977.4 426.1 971.5 426.7 972.4 427.3 980.3 427.9 979.7 428.6 976.5 429.2 973.9 429.8 980.4 430.4 977.7 431.0 974.6 431.6 981.8 432.2 972.9 432.8 982.5 433.4 980.1 434.0 979.7 434.7 980.5 435.3 981.1 435.9 982.4 436.5 982.4 437.1 973.8 437.7 973.7 438.3 983.4 438.9 974.7 439.5 976.0 440.1 983.2 440.8 985.9 441.4 983.6 442.0 979.0 442.6 978.4 443.2 985.9 443.8 982.8 444.4 980.7 445.0 972.2 445.6 976.1 446.2 973.8 446.9 987.1 447.5 977.5 448.1 975.4 448.7 980.6 449.3 975.5 449.9 980.3 450.5 985.6 451.1 985.9 451.7 977.4 452.3 986.7 453.0 979.4 453.6 981.2 454.2 976.9 454.8 986.4 455.4 977.4 456.0 984.6 456.6 983.4 457.2 983.9 457.8 975.6 458.4 982.2 459.1 988.2 459.7 982.7 460.3 977.0 460.9 974.4 461.5 977.5 462.1 983.6 462.7 973.2 463.3 973.6 463.9 983.0 464.5 985.8 465.2 980.2 465.8 983.3 466.4 977.4 467.0 978.6 467.6 981.2 468.2 975.9 468.8 977.8 469.4 973.6 470.0 983.6 470.6 980.1 471.3 970.9 471.9 970.9 472.5 980.9 473.1 973.7 473.7 972.9 474.3 969.5 474.9 979.3 475.5 978.8 476.1 982.4 476.7 974.4 477.4 982.5 478.0 983.2 478.6 983.8 479.2 982.6 479.8 978.4 480.4 973.2 481.0 981.5 481.6 973.2 482.2 973.6 482.8 977.6 483.5 974.9 484.1 981.7 484.7 988.2 485.3 980.1 485.9 989.0 486.5 992.2 487.1 978.9 487.7 983.8 488.3 988.9 488.9 989.3 489.6 983.5 490.2 990.1 490.8 983.8 491.4 981.1 492.0 985.5 492.6 987.1 493.2 990.5 493.8 988.0 494.4 978.7 495.0 986.0 495.7 982.4 496.3 987.5 496.9 978.5 497.5 987.5 498.1 989.9 498.7 980.3 499.3 980.2 499.9 992.8 500.5 992.8 501.1 982.9 501.8 994.1 502.4 987.1 503.0 988.2 503.6 987.2 504.2 985.1 504.8 992.1 505.4 989.4 506.0 993.2 506.6 988.4 507.2 992.1 507.9 986.9 508.5 987.1 509.1 988.6 509.7 981.9 510.3 992.4 510.9 984.3 511.5 995.7 512.1 983.0 512.7 991.2 513.3 992.9 514.0 988.9 514.6 982.0 515.2 991.6 515.8 984.7 516.4 983.9 517.0 989.4 517.6 994.1 518.2 982.4 518.8 987.1 519.4 990.4 520.1 984.9 520.7 992.9 521.3 988.7 521.9 982.8 522.5 983.8 523.1 982.5 523.7 986.6 524.3 993.0 524.9 981.7 525.5 981.6 526.2 982.5 526.8 987.9 527.4 985.3 528.0 986.3 528.6 981.3 529.2 991.3 529.8 986.2 530.4 991.2 531.0 979.5 531.6 986.5 532.3 985.9 532.9 992.7 533.5 991.0 534.1 988.1 534.7 982.9 535.3 990.7 535.9 993.6 536.5 992.8 537.1 994.8 537.7 990.8 538.4 987.4 539.0 985.5 539.6 993.1 540.2 993.2 540.8 991.5 541.4 994.0 542.0 990.0 542.6 996.3 543.2 993.5 543.8 987.5 544.5 991.7 545.1 992.9 545.7 986.7 546.3 996.7 546.9 994.7 547.5 984.7 548.1 986.0 548.7 982.3 549.3 996.3 549.9 985.9 550.6 995.5 551.2 991.3 551.8 984.5 552.4 986.8 553.0 986.3 553.6 993.0 554.2 988.4 554.8 985.3 555.4 997.4 556.0 992.2 556.7 985.3 557.3 997.8 557.9 993.3 558.5 989.5 559.1 985.9 559.7 994.6 560.3 985.8 560.9 997.6 561.5 994.8 562.1 993.2 562.8 994.2 563.4 994.7 564.0 989.9 564.6 994.4 565.2 984.1 565.8 991.9 566.4 992.9 567.0 985.6 567.6 984.6 568.2 996.4 568.9 995.6 569.5 984.7 570.1 990.8 570.7 984.0 571.3 983.2 571.9 993.0 572.5 988.5 573.1 990.4 573.7 984.2 574.3 991.6 575.0 990.3 575.6 987.1 576.2 988.7 576.8 984.7 577.4 990.2 578.0 985.4 578.6 989.0 579.2 994.1 579.8 991.3 580.4 991.6 581.1 985.3 581.7 994.8 582.3 992.1 582.9 996.7 583.5 996.3 584.1 997.0 584.7 990.5 585.3 994.7 585.9 985.8 586.5 985.0 587.2 995.6 587.8 994.0 588.4 997.6 589.0 989.7 589.6 992.1 590.2 995.1 590.8 992.1 591.4 996.3 592.0 990.6 592.6 997.2 593.3 995.9 593.9 996.5 594.5 990.4 595.1 998.0 595.7 989.4 596.3 992.8 596.9 999.2 597.5 995.1 598.1 993.9 598.7 990.8 599.4 992.9 600.0 993.2 600.6 995.2 601.2 993.9 601.8 992.0 602.4 990.7 603.0 1001.6 603.6 996.5 604.2 989.3 604.8 991.4 605.5 996.5 606.1 991.5 606.7 1000.3 607.3 995.6 607.9 997.3 608.5 997.6 609.1 991.6 609.7 1001.1 610.3 998.8 610.9 990.1 611.6 996.9 612.2 994.7 612.8 991.6 613.4 993.2 614.0 991.3 614.6 996.2 615.2 993.8 615.8 989.7 616.4 991.5 617.0 989.3 617.7 996.0 618.3 995.3 618.9 993.6 619.5 996.7 620.1 998.3 620.7 992.0 621.3 989.1 621.9 1001.4 622.5 991.2 623.1 991.7 623.8 997.7 624.4 1000.8 625.0 989.6 625.6 994.1 626.2 999.5 626.8 987.4 627.4 990.1 628.0 994.2 628.6 997.2 629.2 987.5 629.9 992.5 630.5 994.3 631.1 993.8 631.7 993.4 632.3 999.5 632.9 998.5 633.5 988.1 634.1 988.1 634.7 989.8 635.3 984.6 636.0 985.5 636.6 991.4 637.2 997.2 637.8 987.0 638.4 985.9 639.0 992.5 639.6 988.7 640.2 984.5 640.8 986.3 641.4 996.6 642.1 986.4 642.7 994.3 643.3 991.9 643.9 997.2 644.5 993.6 645.1 989.6 645.7 990.2 646.3 990.6 646.9 990.2 647.5 990.9 648.2 991.7 648.8 995.9 649.4 994.8 650.0 987.8 650.6 993.5 651.2 999.8 651.8 999.6 652.4 990.8 653.0 988.8 653.6 990.9 654.3 988.6 654.9 989.8 655.5 998.9 656.1 997.1 656.7 991.3 657.3 992.8 657.9 994.0 658.5 993.1 659.1 991.7 659.7 991.5 660.4 989.8 661.0 983.0 661.6 989.3 662.2 988.5 662.8 980.4 663.4 979.5 664.0 984.3 664.6 979.5 665.2 982.8 665.8 971.7 666.5 973.0 667.1 968.7 667.7 956.8 668.3 952.7 668.9 945.6 669.5 936.6 670.1 925.1 670.7 916.8 671.3 911.3 671.9 898.0 672.6 895.9 673.2 888.2 673.8 887.4 674.4 885.9 675.0 899.5 675.6 897.2 676.2 917.4 676.8 922.8 677.4 936.1 678.0 940.8 678.7 947.5 679.3 954.4 679.9 967.8 680.5 968.6 681.1 971.0 681.7 972.4 682.3 974.7 682.9 979.9 683.5 982.2 684.1 989.1 684.8 981.2 685.4 985.7 686.0 982.9 686.6 985.3 687.2 989.9 687.8 995.7 688.4 986.8 689.0 988.3 689.6 995.3 690.2 993.2 690.9 987.5 691.5 995.2 692.1 999.1 692.7 998.0 693.3 1000.3 693.9 996.4 694.5 991.6 695.1 997.7 695.7 994.5 696.3 990.3 697.0 993.3 697.6 1000.8 698.2 997.6 698.8 994.7 699.4 997.9 700.0 997.0 700.6 990.8 701.2 995.2 701.8 1000.2 702.4 991.7 703.1 997.6 703.7 991.9 704.3 994.0 704.9 1000.7 705.5 995.1 706.1 1000.9 706.7 1000.2 707.3 999.1 707.9 991.6 708.5 995.9 709.2 1001.4 709.8 998.0 710.4 990.7 711.0 996.8 711.6 995.4 712.2 995.3 712.8 995.0 713.4 999.9 714.0 996.5 714.6 1001.8 715.3 1003.5 715.9 1002.4 716.5 1000.9 717.1 991.2 717.7 990.2 718.3 992.7 718.9 997.8 719.5 995.6 720.1 993.4 720.7 1003.4 721.4 997.9 722.0 995.1 722.6 999.2 723.2 1005.4 723.8 1002.6 724.4 1005.5 725.0 994.8 725.6 1002.6 726.2 997.4 726.8 998.4 727.5 1000.2 728.1 1000.1 728.7 1004.5 729.3 997.1 729.9 999.4 730.5 998.6 731.1 1001.6 731.7 1000.5 732.3 994.4 732.9 1004.5 733.6 1001.1 734.2 994.1 734.8 997.9 735.4 1004.1 736.0 1004.6 736.6 998.1 737.2 995.8 737.8 1005.0 738.4 1002.5 739.0 1001.9 739.7 998.9 740.3 1005.5 740.9 997.5 741.5 1005.6 742.1 1004.7 742.7 1001.5 743.3 999.0 743.9 1003.0 744.5 1000.4 745.1 1000.5 745.8 998.5 746.4 1005.4 747.0 998.4 747.6 1002.6 748.2 1002.0 748.8 1010.2 749.4 1000.3 750.0 1006.5 750.6 1001.7 751.2 1010.6 751.9 1000.2 752.5 1010.0 753.1 1005.8 753.7 999.9 754.3 1002.1 754.9 999.9 755.5 1002.5 756.1 1006.9 756.7 1001.8 757.3 1008.6 758.0 1007.0 758.6 998.9 759.2 998.2 759.8 1004.5 760.4 1000.4 761.0 999.5 761.6 1007.8 762.2 1002.0 762.8 997.7 763.4 1002.4 764.1 1001.5 764.7 1004.2 765.3 998.6 765.9 999.4 766.5 995.2 767.1 1003.9 767.7 1005.0 768.3 994.5 768.9 1003.4 769.5 1005.9 770.2 1004.3 770.8 1003.3 771.4 996.2 772.0 1006.0 772.6 998.0 773.2 1004.5 773.8 1003.3 774.4 1002.0 775.0 1006.1 775.6 1006.2 776.3 999.5 776.9 999.2 777.5 1005.5 778.1 1000.6 778.7 1005.1 779.3 997.0 779.9 996.9 780.5 998.7 781.1 999.2 781.7 1000.1 782.4 996.7 783.0 995.9 783.6 998.0 784.2 996.7 784.8 998.5 785.4 1000.1 786.0 1006.5 786.6 999.3 787.2 1001.0 787.8 1004.8 788.5 998.8 789.1 997.0 789.7 999.5 790.3 1004.1 790.9 997.9 791.5 1004.3 792.1 1001.0 792.7 1002.7 793.3 1003.5 793.9 1002.0 794.6 999.4 795.2 1000.1 795.8 998.4 796.4 1007.4 797.0 1005.9 797.6 1010.6 798.2 1003.3 798.8 1006.7 799.4 1006.0 800.0 1002.4 800.7 1007.4 801.3 1008.5 801.9 1007.7 802.5 1007.6 803.1 1006.2 803.7 1005.0 804.3 1010.8 804.9 1006.3 805.5 1004.1 806.1 1014.0 806.8 1013.1 807.4 1006.9 808.0 1006.8 808.6 1003.5 809.2 1012.5 809.8 1003.7 810.4 1010.5 811.0 1008.7 811.6 1000.3 812.2 999.6 812.9 1003.6 813.5 998.9 814.1 1009.2 814.7 1010.2 815.3 1004.7 815.9 1000.5 816.5 999.5 817.1 998.0 817.7 1003.4 818.3 998.5 819.0 999.1 819.6 1005.4 820.2 1007.4 820.8 1004.1 821.4 1008.3 822.0 1006.8 822.6 1002.0 823.2 1001.9 823.8 1000.3 824.4 1007.8 825.1 1004.0 825.7 1007.7 826.3 1004.1 826.9 1008.9 827.5 1007.6 828.1 1006.4 828.7 1008.0 829.3 1008.6 829.9 1000.8 830.5 1009.7 831.2 1002.0 831.8 1006.4 832.4 1006.8 833.0 1009.8 833.6 1003.6 834.2 1009.0 834.8 1010.2 835.4 1005.0 836.0 1008.4 836.6 1006.5 837.3 1009.7 837.9 1011.3 838.5 1006.9 839.1 1001.8 839.7 1011.5 840.3 1008.1 840.9 1004.5 841.5 1010.2 842.1 1007.3 842.7 1003.9 843.4 1005.6 844.0 1008.6 844.6 1005.9 845.2 1004.0 845.8 1003.5 846.4 1006.8 847.0 1010.6 847.6 1005.2 848.2 1005.9 848.8 1010.7 849.5 1008.3 850.1 1012.7 850.7 1011.4 851.3 1013.0 851.9 1008.1 852.5 1012.0 853.1 1014.5 853.7 1003.3 854.3 1008.1 854.9 1012.7 855.6 1007.1 856.2 1005.2 856.8 1010.9 857.4 1004.8 858.0 1006.4 858.6 1004.7 859.2 1012.9 859.8 1004.7 860.4 1013.9 861.0 1009.5 861.7 1007.9 862.3 1005.7 862.9 1008.8 863.5 1007.5 864.1 1014.2 864.7 1011.0 865.3 1006.0 865.9 1015.9 866.5 1016.5 867.1 1016.4 867.8 1008.0 868.4 1011.6 869.0 1014.1 869.6 1007.9 870.2 1011.2 870.8 1009.5 871.4 1015.5 872.0 1005.7 872.6 1016.8 873.2 1006.6 873.9 1017.9 874.5 1012.3 875.1 1008.9 875.7 1010.7 876.3 1017.9 876.9 1009.4 877.5 1016.9 878.1 1017.7 878.7 1011.5 879.3 1015.1 880.0 1013.7 880.6 1017.0 881.2 1008.7 881.8 1010.7 882.4 1014.5 883.0 1008.3 883.6 1009.2 884.2 1014.6 884.8 1012.9 885.4 1012.1 886.1 1015.8 886.7 1008.6 887.3 1016.0 887.9 1008.9 888.5 1015.3 889.1 1012.9 889.7 1012.9 890.3 1011.6 890.9 1013.8 891.5 1009.1 892.2 1014.0 892.8 1006.3 893.4 1012.2 894.0 1016.1 894.6 1015.6 895.2 1008.1 895.8 1016.3 896.4 1012.7 897.0 1010.4 897.6 1010.3 898.3 1012.0 898.9 1011.3 899.5 1017.2 900.1 1014.8 900.7 1007.4 901.3 1014.6 901.9 1012.6 902.5 1017.4 903.1 1009.4 903.7 1014.8 904.4 1012.6 905.0 1009.8 905.6 1009.8 906.2 1018.5 906.8 1008.4 907.4 1011.1 908.0 1014.1 908.6 1012.5 909.2 1013.9 909.8 1010.5 910.5 1018.0 911.1 1015.9 911.7 1016.8 912.3 1021.4 912.9 1012.4 913.5 1016.2 914.1 1013.9 914.7 1015.2 915.3 1017.1 915.9 1020.5 916.6 1014.2 917.2 1021.2 917.8 1020.0 918.4 1017.9 919.0 1021.9 919.6 1017.2 920.2 1023.0 920.8 1022.2 921.4 1016.0 922.0 1022.3 922.7 1020.4 923.3 1017.0 923.9 1017.5 924.5 1020.3 925.1 1021.6 925.7 1020.3 926.3 1021.1 926.9 1014.9 927.5 1010.1 928.1 1011.2 928.8 1013.0 929.4 1009.0 930.0 1013.8 930.6 1009.4 931.2 1011.5 931.8 1011.9 932.4 1018.9 933.0 1014.8 933.6 1010.4 934.2 1017.9 934.9 1019.1 935.5 1016.5 936.1 1008.8 936.7 1017.8 937.3 1011.0 937.9 1017.5 938.5 1018.2 939.1 1016.7 939.7 1010.4 940.3 1013.9 941.0 1011.3 941.6 1018.4 942.2 1010.9 942.8 1014.3 943.4 1017.3 944.0 1018.1 944.6 1014.0 945.2 1010.5 945.8 1020.1 946.4 1013.3 947.1 1014.6 947.7 1009.0 948.3 1011.7 948.9 1018.6 949.5 1016.4 950.1 1017.0 950.7 1015.5 951.3 1010.8 951.9 1012.2 952.5 1020.0 953.2 1010.9 953.8 1017.1 954.4 1014.1 955.0 1017.7 955.6 1011.5 956.2 1010.9 956.8 1015.1 957.4 1012.3 958.0 1018.1 958.6 1021.1 959.3 1012.0 959.9 1013.2 960.5 1012.6 961.1 1014.6 961.7 1013.6 962.3 1018.4 962.9 1015.7 963.5 1017.5 964.1 1021.0 964.7 1020.5 965.4 1013.0 966.0 1014.0 966.6 1017.0 967.2 1014.9 967.8 1008.3 968.4 1013.3 969.0 1009.1 969.6 999.9 970.2 990.5 970.8 990.6 971.5 981.2 972.1 980.2 972.7 987.2 973.3 988.7 973.9 997.7 974.5 994.7 975.1 998.9 975.7 1004.6 976.3 1014.2 976.9 1015.2 977.6 1009.9 978.2 1013.1 978.8 1023.0 979.4 1019.8 980.0 1018.7 980.6 1015.3 981.2 1016.1 981.8 1014.2 982.4 1022.9 983.0 1024.0 983.7 1019.3 984.3 1022.2 984.9 1015.2 985.5 1016.6 986.1 1020.1 986.7 1019.8 987.3 1019.7 987.9 1014.1 988.5 1023.2 989.1 1015.8 989.8 1020.0 990.4 1022.1 991.0 1014.0 991.6 1017.3 992.2 1018.8 992.8 1022.7 993.4 1019.9 994.0 1017.4 994.6 1020.1 995.2 1018.1 995.9 1013.3 996.5 1015.5 997.1 1019.4 997.7 1020.1 998.3 1017.8 998.9 1016.0 999.5 1014.0 1000.1 1021.1 1000.7 1015.8 1001.3 1021.5 1002.0 1024.2 1002.6 1022.4 1003.2 1020.4 1003.8 1014.6 1004.4 1021.9 1005.0 1024.8 1005.6 1017.8 1006.2 1023.5 1006.8 1020.3 1007.4 1022.6 1008.1 1022.2 1008.7 1017.6 1009.3 1019.0 1009.9 1015.0 1010.5 1016.0 1011.1 1018.1 1011.7 1021.6 1012.3 1017.9 1012.9 1022.2 1013.5 1019.7 1014.2 1021.9 1014.8 1020.7 1015.4 1016.5 1016.0 1013.0 1016.6 1016.7 1017.2 1017.2 1017.8 1013.0 1018.4 1012.6 1019.0 1022.0 1019.6 1020.0 1020.3 1014.9 1020.9 1010.6 1021.5 1013.5 1022.1 1016.7 1022.7 1021.1 1023.3 1010.1 1023.9 1017.2 1024.5 1020.0 1025.1 1019.5 1025.7 1014.9 1026.4 1016.8 1027.0 1016.0 1027.6 1008.9 1028.2 1011.6 1028.8 1018.0 1029.4 1009.5 1030.0 1009.0 1030.6 1013.9 1031.2 1016.2 1031.8 1009.9 1032.5 1011.2 1033.1 1014.7 1033.7 1013.4 1034.3 1004.2 1034.9 1012.0 1035.5 1006.1 1036.1 1014.8 1036.7 1012.1 1037.3 1013.6 1037.9 1008.8 1038.6 1005.8 1039.2 1007.2 1039.8 1005.4 1040.4 1013.5 1041.0 1014.8 1041.6 1010.2 1042.2 1014.7 1042.8 1009.5 1043.4 1011.4 1044.0 1011.1 1044.7 1011.3 1045.3 1007.3 1045.9 1008.4 1046.5 1007.7 1047.1 1012.8 1047.7 1010.8 1048.3 1015.7 1048.9 1010.2 1049.5 1005.0 1050.1 1001.8 1050.8 1006.6 1051.4 1006.9 1052.0 998.8 1052.6 1001.9 1053.2 1005.7 1053.8 1004.0 1054.4 994.6 1055.0 997.8 1055.6 999.5 1056.2 996.3 1056.9 990.0 1057.5 992.2 1058.1 991.1 1058.7 992.1 1059.3 998.6 1059.9 997.3 1060.5 999.6 1061.1 997.9 1061.7 1000.1 1062.3 995.9 1063.0 1001.7 1063.6 997.5 1064.2 1000.2 1064.8 992.1 1065.4 995.9 1066.0 983.3 1066.6 975.6 1067.2 946.2 1067.8 910.3 1068.4 858.8 1069.1 790.2 1069.7 699.8 1070.3 592.9 1070.9 491.5 1071.5 401.9 1072.1 333.4 1072.7 299.2 1073.3 297.7 1073.9 336.6 1074.5 386.0 1075.2 459.8 1075.8 541.3 1076.4 625.9 1077.0 702.3 1077.6 779.5 1078.2 849.6 1078.8 899.4 1079.4 940.2 1080.0 965.9 1080.6 983.1 1081.3 997.5 1081.9 1004.9 1082.5 1002.1 1083.1 1010.1 1083.7 1013.4 1084.3 1006.5 1084.9 1010.7 1085.5 1012.4 1086.1 1013.4 1086.7 1016.6 1087.4 1009.1 1088.0 1009.4 1088.6 1016.7 1089.2 1012.3 1089.8 1014.8 1090.4 1012.0 1091.0 1020.1 1091.6 1014.9 1092.2 1011.3 1092.8 1019.6 1093.5 1016.9 1094.1 1013.9 1094.7 1012.3 1095.3 1012.5 1095.9 1020.8 1096.5 1013.3 1097.1 1014.4 1097.7 1018.5 1098.3 1014.2 1098.9 1020.3 1099.6 1018.2 1100.2 1017.9 1100.8 1014.7 1101.4 1013.8 1102.0 1018.5 1102.6 1020.4 1103.2 1017.7 1103.8 1020.8 1104.4 1013.2 1105.0 1019.7 1105.7 1014.7 1106.3 1015.7 1106.9 1014.0 1107.5 1023.0 1108.1 1015.8 1108.7 1016.0 1109.3 1017.3 1109.9 1017.9 1110.5 1020.8 1111.1 1013.8 1111.8 1013.7 1112.4 1015.1 1113.0 1021.3 1113.6 1020.9 1114.2 1021.3 1114.8 1018.0 1115.4 1012.9 1116.0 1019.1 1116.6 1016.1 1117.2 1014.4 1117.9 1015.4 1118.5 1018.7 1119.1 1016.5 1119.7 1016.7 1120.3 1013.5 1120.9 1010.2 1121.5 1003.0 1122.1 993.7 1122.7 975.2 1123.3 946.8 1124.0 904.9 1124.6 855.5 1125.2 806.0 1125.8 749.8 1126.4 704.6 1127.0 669.5 1127.6 657.8 1128.2 674.6 1128.8 691.7 1129.4 728.8 1130.1 758.6 1130.7 800.0 1131.3 842.2 1131.9 883.1 1132.5 925.9 1133.1 947.8 1133.7 973.0 1134.3 992.1 1134.9 1002.8 1135.5 1011.1 1136.2 1013.0 1136.8 1011.4 1137.4 1011.7 1138.0 1018.9 1138.6 1015.3 1139.2 1014.8 1139.8 1016.4 1140.4 1015.1 1141.0 1021.7 1141.6 1016.5 1142.3 1020.4 1142.9 1018.9 1143.5 1020.5 1144.1 1024.4 1144.7 1019.4 1145.3 1015.8 1145.9 1021.0 1146.5 1017.1 1147.1 1016.4 1147.7 1021.4 1148.4 1016.9 1149.0 1018.5 1149.6 1019.3 1150.2 1023.4 1150.8 1023.2 1151.4 1020.0 1152.0 1016.4 1152.6 1017.2 1153.2 1018.3 1153.8 1026.5 1154.5 1021.6 1155.1 1022.1 1155.7 1024.4 1156.3 1022.0 1156.9 1018.9 1157.5 1024.1 1158.1 1018.9 1158.7 1021.1 1159.3 1017.5 1159.9 1023.6 1160.6 1026.5 1161.2 1021.6 1161.8 1019.5 1162.4 1022.0 1163.0 1021.2 1163.6 1021.6 1164.2 1025.7 1164.8 1025.9 1165.4 1024.9 1166.0 1023.0 1166.7 1024.9 1167.3 1023.9 1167.9 1022.6 1168.5 1019.7 1169.1 1026.8 1169.7 1021.6 1170.3 1026.0 1170.9 1026.4 1171.5 1022.1 1172.1 1024.5 1172.8 1023.3 1173.4 1026.0 1174.0 1027.7 1174.6 1018.4 1175.2 1027.5 1175.8 1020.9 1176.4 1021.1 1177.0 1025.4 1177.6 1021.1 1178.2 1023.1 1178.9 1019.5 1179.5 1017.4 1180.1 1022.0 1180.7 1019.4 1181.3 1026.8 1181.9 1018.0 1182.5 1018.4 1183.1 1026.2 1183.7 1020.1 1184.3 1024.2 1185.0 1019.2 1185.6 1025.6 1186.2 1023.7 1186.8 1026.3 1187.4 1025.7 1188.0 1026.1 1188.6 1024.7 1189.2 1026.0 1189.8 1028.0 1190.4 1022.9 1191.1 1025.8 1191.7 1021.1 1192.3 1028.1 1192.9 1026.1 1193.5 1022.0 1194.1 1022.3 1194.7 1024.4 1195.3 1021.7 1195.9 1025.0 1196.5 1025.6 1197.2 1025.9 1197.8 1025.3 1198.4 1023.9 1199.0 1028.5 1199.6 1025.3 1200.2 1021.5 1200.8 1028.3 1201.4 1022.3 1202.0 1028.1 1202.6 1027.2 1203.3 1030.5 1203.9 1030.5 1204.5 1024.7 1205.1 1026.3 1205.7 1023.0 1206.3 1026.8 1206.9 1024.2 1207.5 1025.8 1208.1 1024.9 1208.7 1029.6 1209.4 1027.0 1210.0 1029.3 1210.6 1025.5 1211.2 1025.1 1211.8 1030.4 1212.4 1024.4 1213.0 1021.4 1213.6 1023.1 1214.2 1028.3 1214.8 1025.5 1215.5 1028.6 1216.1 1027.9 1216.7 1029.7 1217.3 1023.3 1217.9 1030.1 1218.5 1023.7 1219.1 1025.6 1219.7 1030.8 1220.3 1025.5 1220.9 1027.1 1221.6 1025.5 1222.2 1023.8 1222.8 1027.1 1223.4 1023.5 1224.0 1023.1 1224.6 1026.0 1225.2 1024.9 1225.8 1030.1 1226.4 1026.8 1227.0 1025.7 1227.7 1025.2 1228.3 1031.8 1228.9 1030.2 1229.5 1028.5 1230.1 1024.9 1230.7 1027.8 1231.3 1023.3 1231.9 1023.9 1232.5 1026.0 1233.1 1023.0 1233.8 1023.0 1234.4 1027.3 1235.0 1029.5 1235.6 1024.6 1236.2 1031.1 1236.8 1024.2 1237.4 1026.5 1238.0 1025.7 1238.6 1029.0 1239.2 1027.9 1239.9 1028.5 1240.5 1024.1 1241.1 1024.3 1241.7 1025.1 1242.3 1029.5 1242.9 1031.3 1243.5 1031.2 1244.1 1031.1 1244.7 1030.2 1245.3 1030.5 1246.0 1029.7 1246.6 1024.6 1247.2 1025.1 1247.8 1024.6 1248.4 1029.9 1249.0 1029.9 1249.6 1025.5 1250.2 1026.2 1250.8 1025.5 1251.4 1031.2 1252.1 1030.7 1252.7 1029.8 1253.3 1029.3 1253.9 1028.8 1254.5 1028.1 1255.1 1024.9 1255.7 1028.9 1256.3 1029.6 1256.9 1030.7 1257.5 1025.6 1258.2 1033.3 1258.8 1031.2 1259.4 1030.9 1260.0 1027.2 1260.6 1029.8 1261.2 1030.9 1261.8 1027.0 1262.4 1031.2 1263.0 1030.6 1263.6 1033.0 1264.3 1031.5 1264.9 1032.7 1265.5 1035.9 1266.1 1033.2 1266.7 1027.7 1267.3 1028.2 1267.9 1031.2 1268.5 1031.3 1269.1 1033.0 1269.7 1030.4 1270.4 1030.2 1271.0 1026.4 1271.6 1033.7 1272.2 1030.3 1272.8 1033.8 1273.4 1033.6 1274.0 1034.9 1274.6 1032.6 1275.2 1027.8 1275.8 1030.8 1276.5 1031.5 1277.1 1028.8 1277.7 1027.2 1278.3 1033.9 1278.9 1034.1 1279.5 1027.7 1280.1 1026.3 1280.7 1032.9 1281.3 1032.6 1281.9 1027.6 1282.6 1028.1 1283.2 1028.4 1283.8 1032.8 1284.4 1034.5 1285.0 1035.0 1285.6 1029.9 1286.2 1031.4 1286.8 1033.2 1287.4 1034.1 1288.0 1030.8 1288.7 1031.6 1289.3 1033.2 1289.9 1032.6 1290.5 1033.5 1291.1 1031.8 1291.7 1027.5 1292.3 1029.9 1292.9 1032.5 1293.5 1029.7 1294.1 1035.5 1294.8 1029.2 1295.4 1034.7 1296.0 1028.6 1296.6 1033.3 1297.2 1032.9 1297.8 1035.4 1298.4 1032.9 1299.0 1035.0 1299.6 1034.5 1300.2 1030.3 1300.9 1031.9 1301.5 1028.1 1302.1 1029.4 1302.7 1035.1 1303.3 1029.1 1303.9 1030.3 1304.5 1029.7 1305.1 1035.8 1305.7 1029.8 1306.3 1033.6 1307.0 1030.1 1307.6 1035.6 1308.2 1029.3 1308.8 1033.4 1309.4 1037.0 1310.0 1034.3 1310.6 1032.8 1311.2 1033.8 1311.8 1030.9 1312.4 1028.0 1313.1 1033.6 1313.7 1034.3 1314.3 1029.2 1314.9 1031.6 1315.5 1034.4 1316.1 1029.4 1316.7 1029.6 1317.3 1028.7 1317.9 1027.1 1318.5 1033.7 1319.2 1031.6 1319.8 1031.8 1320.4 1032.6 1321.0 1033.4 1321.6 1030.4 1322.2 1034.0 1322.8 1025.3 1323.4 1027.5 1324.0 1027.4 1324.6 1030.6 1325.3 1032.4 1325.9 1033.3 1326.5 1035.0 1327.1 1035.4 1327.7 1030.8 1328.3 1031.0 1328.9 1032.0 1329.5 1026.8 1330.1 1030.6 1330.7 1032.4 1331.4 1026.3 1332.0 1028.4 1332.6 1028.0 1333.2 1028.2 1333.8 1030.9 1334.4 1031.3 1335.0 1028.1 1335.6 1032.9 1336.2 1033.7 1336.8 1036.2 1337.5 1034.0 1338.1 1027.8 1338.7 1029.3 1339.3 1035.7 1339.9 1028.9 1340.5 1029.5 1341.1 1031.9 1341.7 1034.6 1342.3 1031.1 1342.9 1027.5 1343.6 1031.0 1344.2 1036.0 1344.8 1029.3 1345.4 1033.1 1346.0 1029.5 1346.6 1027.4 1347.2 1030.2 1347.8 1031.1 1348.4 1034.1 1349.0 1027.8 1349.7 1034.3 1350.3 1027.7 1350.9 1029.3 1351.5 1029.8 1352.1 1034.9 1352.7 1029.1 1353.3 1029.1 1353.9 1026.1 1354.5 1027.9 1355.1 1031.5 1355.8 1032.2 1356.4 1029.9 1357.0 1034.0 1357.6 1025.8 1358.2 1031.0 1358.8 1028.2 1359.4 1028.9 1360.0 1027.2 1360.6 1025.3 1361.2 1025.1 1361.9 1023.5 1362.5 1026.0 1363.1 1027.8 1363.7 1018.5 1364.3 1023.0 1364.9 1019.1 1365.5 1014.1 1366.1 1011.0 1366.7 1009.7 1367.3 1015.7 1368.0 1011.7 1368.6 1015.9 1369.2 1010.0 1369.8 1010.5 1370.4 1015.9 1371.0 1013.5 1371.6 1018.4 1372.2 1020.5 1372.8 1026.1 1373.4 1026.0 1374.1 1021.5 1374.7 1023.6 1375.3 1024.4 1375.9 1029.8 1376.5 1030.7 1377.1 1031.5 1377.7 1035.4 1378.3 1030.1 1378.9 1033.3 1379.5 1036.1 1380.2 1035.3 1380.8 1033.4 1381.4 1031.0 1382.0 1031.1 1382.6 1038.3 1383.2 1031.9 1383.8 1030.7 1384.4 1037.5 1385.0 1035.6 1385.6 1034.7 1386.3 1036.2 1386.9 1032.8 1387.5 1033.9 1388.1 1033.2 1388.7 1032.3 1389.3 1036.0 1389.9 1033.2 1390.5 1032.5 1391.1 1034.1 1391.7 1034.1 1392.4 1035.2 1393.0 1033.8 1393.6 1030.3 1394.2 1028.3 1394.8 1033.4 1395.4 1030.0 1396.0 1030.5 1396.6 1034.2 1397.2 1027.5 1397.8 1030.0 1398.5 1029.0 1399.1 1032.0 1399.7 1032.5 1400.3 1029.5 1400.9 1035.3 1401.5 1032.6 1402.1 1028.4 1402.7 1034.7 1403.3 1033.7 1403.9 1031.0 1404.6 1034.9 1405.2 1034.4 1405.8 1030.9 1406.4 1035.8 1407.0 1033.9 1407.6 1029.0 1408.2 1030.0 1408.8 1029.0 1409.4 1034.9 1410.0 1030.1 1410.7 1032.4 1411.3 1032.8 1411.9 1029.6 1412.5 1037.7 1413.1 1037.6 1413.7 1037.4 1414.3 1031.2 1414.9 1030.2 1415.5 1029.1 1416.1 1036.6 1416.8 1034.4 1417.4 1029.0 1418.0 1027.5 1418.6 1034.8 1419.2 1029.8 1419.8 1030.4 1420.4 1034.7 1421.0 1034.6 1421.6 1032.5 1422.2 1035.6 1422.9 1031.9 1423.5 1031.7 1424.1 1033.1 1424.7 1032.3 1425.3 1030.1 1425.9 1034.8 1426.5 1034.6 1427.1 1030.1 1427.7 1033.9 1428.3 1033.6 1429.0 1034.0 1429.6 1034.8 1430.2 1036.0 1430.8 1034.3 1431.4 1035.1 1432.0 1038.2 1432.6 1031.5 1433.2 1037.4 1433.8 1031.1 1434.4 1030.5 1435.1 1038.2 1435.7 1031.2 1436.3 1032.0 1436.9 1038.6 1437.5 1034.9 1438.1 1036.2 1438.7 1038.0 1439.3 1037.2 1439.9 1038.6 1440.5 1036.2 1441.2 1038.9 1441.8 1035.1 1442.4 1033.7 1443.0 1039.1 1443.6 1040.9 1444.2 1040.1 1444.8 1033.1 1445.4 1036.8 1446.0 1038.7 1446.6 1037.9 1447.3 1040.3 1447.9 1041.2 1448.5 1038.5 1449.1 1040.9 1449.7 1036.3 1450.3 1037.3 1450.9 1040.6 1451.5 1034.5 1452.1 1036.9 1452.7 1037.0 1453.4 1034.3 1454.0 1038.1 1454.6 1037.7 1455.2 1036.6 1455.8 1033.4 1456.4 1033.8 1457.0 1036.1 1457.6 1033.0 1458.2 1037.2 1458.8 1037.1 1459.5 1031.7 1460.1 1036.1 1460.7 1036.5 1461.3 1036.0 1461.9 1037.5 1462.5 1036.5 1463.1 1032.1 1463.7 1033.0 1464.3 1035.9 1464.9 1037.2 1465.6 1032.6 1466.2 1033.6 1466.8 1030.8 1467.4 1035.6 1468.0 1036.2 1468.6 1029.1 1469.2 1035.4 1469.8 1031.3 1470.4 1032.2 1471.0 1031.8 1471.7 1035.9 1472.3 1031.6 1472.9 1035.0 1473.5 1036.4 1474.1 1033.8 1474.7 1033.7 1475.3 1034.0 1475.9 1032.6 1476.5 1027.8 1477.1 1030.8 1477.8 1031.0 1478.4 1029.7 1479.0 1033.9 1479.6 1030.2 1480.2 1030.2 1480.8 1029.8 1481.4 1032.8 1482.0 1033.4 1482.6 1038.0 1483.2 1031.5 1483.9 1037.7 1484.5 1033.6 1485.1 1038.6 1485.7 1035.0 1486.3 1037.3 1486.9 1037.3 1487.5 1038.4 1488.1 1039.4 1488.7 1037.4 1489.3 1037.3 1490.0 1035.8 1490.6 1036.0 1491.2 1040.6 1491.8 1035.3 1492.4 1037.8 1493.0 1035.1 1493.6 1038.8 1494.2 1035.0 1494.8 1033.6 1495.4 1035.6 1496.1 1036.2 1496.7 1032.9 1497.3 1031.9 1497.9 1034.0 1498.5 1032.3 1499.1 1037.5 1499.7 1033.7 1500.3 1036.7 1500.9 1038.7 1501.5 1035.9 1502.2 1039.2 1502.8 1036.2 1503.4 1032.1 1504.0 1035.4 1504.6 1034.2 1505.2 1033.7 1505.8 1035.1 1506.4 1037.4 1507.0 1036.6 1507.6 1036.4 1508.3 1031.4 1508.9 1035.7 1509.5 1035.7 1510.1 1031.0 1510.7 1036.5 1511.3 1031.6 1511.9 1034.4 1512.5 1029.3 1513.1 1025.0 1513.7 1019.5 1514.4 1008.1 1515.0 984.9 1515.6 961.2 1516.2 922.5 1516.8 887.1 1517.4 855.9 1518.0 832.2 1518.6 834.6 1519.2 841.9 1519.8 857.5 1520.5 880.2 1521.1 891.9 1521.7 901.8 1522.3 911.7 1522.9 920.8 1523.5 935.5 1524.1 960.0 1524.7 972.2 1525.3 993.8 1525.9 1008.5 1526.6 1018.4 1527.2 1028.6 1527.8 1025.2 1528.4 1034.2 1529.0 1029.3 1529.6 1030.6 1530.2 1033.3 1530.8 1034.9 1531.4 1035.1 1532.0 1033.5 1532.7 1038.6 1533.3 1037.5 1533.9 1035.0 1534.5 1037.9 1535.1 1033.1 1535.7 1038.2 1536.3 1034.9 1536.9 1031.4 1537.5 1038.5 1538.1 1032.7 1538.8 1031.3 1539.4 1030.8 1540.0 1034.5 1540.6 1034.6 1541.2 1036.2 1541.8 1031.3 1542.4 1031.1 1543.0 1036.6 1543.6 1030.6 1544.2 1029.4 1544.9 1034.2 1545.5 1029.7 1546.1 1032.5 1546.7 1029.6 1547.3 1032.7 1547.9 1030.9 1548.5 1034.1 1549.1 1029.4 1549.7 1028.2 1550.3 1030.7 1551.0 1027.7 1551.6 1028.9 1552.2 1028.5 1552.8 1028.3 1553.4 1028.2 1554.0 1029.7 1554.6 1033.3 1555.2 1029.2 1555.8 1034.5 1556.4 1029.0 1557.1 1033.9 1557.7 1033.3 1558.3 1032.3 1558.9 1031.6 1559.5 1028.7 1560.1 1036.4 1560.7 1034.0 1561.3 1031.7 1561.9 1030.9 1562.5 1036.3 1563.2 1034.0 1563.8 1035.8 1564.4 1035.6 1565.0 1029.3 1565.6 1036.1 1566.2 1035.4 1566.8 1033.8 1567.4 1034.5 1568.0 1034.6 1568.6 1037.3 1569.3 1032.5 1569.9 1030.2 1570.5 1031.3 1571.1 1035.4 1571.7 1032.6 1572.3 1032.6 1572.9 1036.9 1573.5 1032.5 1574.1 1028.8 1574.7 1030.0 1575.4 1029.0 1576.0 1032.6 1576.6 1024.7 1577.2 1028.6 1577.8 1028.3 1578.4 1021.9 1579.0 1027.3 1579.6 1021.2 1580.2 1019.3 1580.8 1025.4 1581.5 1025.6 1582.1 1022.6 1582.7 1021.5 1583.3 1021.0 1583.9 1029.0 1584.5 1026.4 1585.1 1031.2 1585.7 1029.0 1586.3 1031.2 1586.9 1029.5 1587.6 1029.5 1588.2 1031.5 1588.8 1028.3 1589.4 1031.5 1590.0 1033.7 1590.6 1030.8 1591.2 1030.4 1591.8 1031.6 1592.4 1031.4 1593.0 1034.4 1593.7 1029.9 1594.3 1035.1 1594.9 1030.2 1595.5 1030.5 1596.1 1032.6 1596.7 1031.0 1597.3 1030.6 1597.9 1029.1 1598.5 1029.1 1599.1 1034.9 1599.8 1036.2 1600.4 1036.1 1601.0 1033.0 1601.6 1030.0 1602.2 1032.3 1602.8 1033.8 1603.4 1032.4 1604.0 1034.0 1604.6 1032.6 1605.2 1035.7 1605.9 1037.0 1606.5 1036.4 1607.1 1036.0 1607.7 1038.0 1608.3 1036.9 1608.9 1032.9 1609.5 1039.8 1610.1 1039.2 1610.7 1033.6 1611.3 1034.1 1612.0 1039.9 1612.6 1037.1 1613.2 1038.9 1613.8 1038.7 1614.4 1039.2 1615.0 1035.7 1615.6 1039.0 1616.2 1036.8 1616.8 1036.4 1617.4 1037.3 1618.1 1040.7 1618.7 1036.5 1619.3 1040.2 1619.9 1038.7 1620.5 1035.7 1621.1 1032.8 1621.7 1038.4 1622.3 1032.3 1622.9 1038.9 1623.5 1033.5 1624.2 1037.7 1624.8 1031.0 1625.4 1031.0 1626.0 1037.8 1626.6 1032.0 1627.2 1031.6 1627.8 1033.7 1628.4 1033.9 1629.0 1031.9 1629.6 1036.9 1630.3 1031.0 1630.9 1031.3 1631.5 1037.3 1632.1 1033.1 1632.7 1029.8 1633.3 1030.4 1633.9 1031.9 1634.5 1032.5 1635.1 1036.2 1635.7 1032.4 1636.4 1033.3 1637.0 1033.5 1637.6 1033.3 1638.2 1033.8 1638.8 1037.8 1639.4 1037.8 1640.0 1035.4 1640.6 1032.1 1641.2 1036.4 1641.8 1034.1 1642.5 1037.8 1643.1 1036.3 1643.7 1035.0 1644.3 1032.8 1644.9 1034.9 1645.5 1037.6 1646.1 1036.1 1646.7 1033.8 1647.3 1036.0 1647.9 1033.0 1648.6 1032.6 1649.2 1035.5 1649.8 1037.1 1650.4 1036.1 1651.0 1033.1 1651.6 1032.4 1652.2 1036.3 1652.8 1032.3 1653.4 1035.6 1654.0 1035.0 1654.7 1029.6 1655.3 1036.7 1655.9 1037.2 1656.5 1031.7 1657.1 1032.5 1657.7 1037.2 1658.3 1033.1 1658.9 1034.8 1659.5 1032.6 1660.1 1037.9 1660.8 1034.7 1661.4 1038.6 1662.0 1039.4 1662.6 1036.4 1663.2 1035.2 1663.8 1033.2 1664.4 1038.2 1665.0 1039.1 1665.6 1032.8 1666.2 1038.6 1666.9 1034.7 1667.5 1036.7 1668.1 1036.2 1668.7 1037.6 1669.3 1036.3 1669.9 1040.6 1670.5 1034.7 1671.1 1038.7 1671.7 1039.2 1672.3 1041.5 1673.0 1038.7 1673.6 1037.6 1674.2 1035.5 1674.8 1036.7 1675.4 1040.4 1676.0 1035.0 1676.6 1041.3 1677.2 1040.8 1677.8 1038.4 1678.4 1040.6 1679.1 1037.4 1679.7 1036.8 1680.3 1040.6 1680.9 1039.9 1681.5 1037.1 1682.1 1039.3 1682.7 1035.2 1683.3 1034.9 1683.9 1040.7 1684.5 1038.2 1685.2 1039.8 1685.8 1038.2 1686.4 1037.6 1687.0 1040.5 1687.6 1040.2 1688.2 1037.5 1688.8 1036.7 1689.4 1036.8 1690.0 1040.1 1690.6 1036.6 1691.3 1037.5 1691.9 1034.0 1692.5 1035.5 1693.1 1039.2 1693.7 1039.8 1694.3 1039.8 1694.9 1035.2 1695.5 1037.6 1696.1 1037.8 1696.7 1039.9 1697.4 1036.5 1698.0 1040.0 1698.6 1035.3 1699.2 1035.8 1699.8 1034.9 1700.4 1034.6 1701.0 1038.8 1701.6 1039.5 1702.2 1037.4 1702.8 1040.2 1703.5 1038.3 1704.1 1039.6 1704.7 1036.9 1705.3 1035.4 1705.9 1038.1 1706.5 1035.2 1707.1 1039.1 1707.7 1039.5 1708.3 1035.6 1708.9 1038.9 1709.6 1038.3 1710.2 1040.4 1710.8 1035.2 1711.4 1035.8 1712.0 1036.3 1712.6 1039.9 1713.2 1035.5 1713.8 1036.2 1714.4 1037.4 1715.0 1039.2 1715.7 1039.1 1716.3 1034.2 1716.9 1036.3 1717.5 1039.6 1718.1 1035.5 1718.7 1034.3 1719.3 1034.1 1719.9 1036.0 1720.5 1037.7 1721.1 1039.7 1721.8 1038.8 1722.4 1039.2 1723.0 1033.9 1723.6 1034.0 1724.2 1034.9 1724.8 1036.8 1725.4 1034.8 1726.0 1037.6 1726.6 1035.3 1727.2 1038.7 1727.9 1036.7 1728.5 1035.3 1729.1 1035.1 1729.7 1038.0 1730.3 1035.9 1730.9 1035.5 1731.5 1033.4 1732.1 1037.6 1732.7 1035.7 1733.3 1034.1 1734.0 1036.3 1734.6 1037.6 1735.2 1038.7 1735.8 1040.0 1736.4 1035.2 1737.0 1038.0 1737.6 1036.0 1738.2 1036.6 1738.8 1037.8 1739.4 1038.9 1740.1 1034.6 1740.7 1035.4 1741.3 1040.2 1741.9 1037.5 1742.5 1034.8 1743.1 1038.3 1743.7 1037.7 1744.3 1037.3 1744.9 1041.4 1745.5 1040.5 1746.2 1037.9 1746.8 1040.3 1747.4 1040.9 1748.0 1036.5 1748.6 1035.3 1749.2 1036.6 1749.8 1038.6 1750.4 1040.6 1751.0 1039.6 1751.6 1038.7 1752.3 1036.7 1752.9 1038.5 1753.5 1036.3 1754.1 1033.9 1754.7 1035.0 1755.3 1037.3 1755.9 1037.1 1756.5 1040.9 1757.1 1040.1 1757.7 1040.1 1758.4 1036.8 1759.0 1040.3 1759.6 1037.0 1760.2 1040.1 1760.8 1036.0 1761.4 1036.6 1762.0 1035.4 1762.6 1038.1 1763.2 1038.5 1763.8 1040.9 1764.5 1037.3 1765.1 1037.0 1765.7 1036.9 1766.3 1040.1 1766.9 1037.2 1767.5 1040.1 1768.1 1039.2 1768.7 1038.2 1769.3 1038.2 1769.9 1041.3 1770.6 1042.4 1771.2 1037.7 1771.8 1039.2 1772.4 1041.1 1773.0 1036.5 1773.6 1035.5 1774.2 1039.7 1774.8 1036.7 1775.4 1038.9 1776.0 1040.6 1776.7 1036.2 1777.3 1038.7 1777.9 1037.6 1778.5 1041.6 1779.1 1038.0 1779.7 1038.2 1780.3 1040.0 1780.9 1036.2 1781.5 1040.3 1782.1 1036.3 1782.8 1039.4 1783.4 1040.3 1784.0 1034.2 1784.6 1036.7 1785.2 1037.0 1785.8 1039.0 1786.4 1036.5 1787.0 1038.6 1787.6 1035.4 1788.2 1037.4 1788.9 1038.7 1789.5 1035.4 1790.1 1036.0 1790.7 1035.6 1791.3 1036.6 1791.9 1036.7 1792.5 1037.0 1793.1 1038.1 1793.7 1035.1 1794.3 1036.4 1795.0 1035.7 1795.6 1038.3 1796.2 1038.1 1796.8 1039.6 1797.4 1039.7 1798.0 1036.8 1798.6 1039.8 1799.2 1038.0 1799.8 1038.4 1800.4 1039.8 1801.1 1038.0 1801.7 1041.1 1802.3 1035.6 1802.9 1041.9 1803.5 1038.5 1804.1 1039.0 1804.7 1034.7 1805.3 1036.3 1805.9 1034.4 1806.5 1039.9 1807.2 1036.5 1807.8 1041.1 1808.4 1040.5 1809.0 1035.7 1809.6 1034.2 1810.2 1035.3 1810.8 1034.7 1811.4 1040.6 1812.0 1035.1 1812.6 1039.3 1813.3 1033.5 1813.9 1035.4 1814.5 1032.1 1815.1 1033.6 1815.7 1033.3 1816.3 1034.6 1816.9 1036.3 1817.5 1037.4 1818.1 1035.9 1818.7 1031.0 1819.4 1032.1 1820.0 1029.7 1820.6 1029.2 1821.2 1022.1 1821.8 1022.8 1822.4 1019.8 1823.0 1024.2 1823.6 1021.6 1824.2 1025.7 1824.8 1023.3 1825.5 1030.1 1826.1 1029.5 1826.7 1026.0 1827.3 1030.3 1827.9 1026.5 1828.5 1030.9 1829.1 1034.8 1829.7 1032.7 1830.3 1035.1 1830.9 1038.0 1831.6 1034.0 1832.2 1034.8 1832.8 1035.8 1833.4 1042.1 1834.0 1041.8 1834.6 1041.8 1835.2 1040.1 1835.8 1041.0 1836.4 1039.3 1837.0 1041.8 1837.7 1041.5 1838.3 1036.6 1838.9 1038.5 1839.5 1039.9 1840.1 1041.5 1840.7 1037.1 1841.3 1041.5 1841.9 1041.2 1842.5 1036.8 1843.1 1040.3 1843.8 1041.6 1844.4 1041.8 1845.0 1041.4 1845.6 1036.0 1846.2 1042.0 1846.8 1038.1 1847.4 1036.4 1848.0 1035.5 1848.6 1040.1 1849.2 1038.8 1849.9 1038.9 1850.5 1036.8 1851.1 1039.7 1851.7 1040.7 1852.3 1038.5 1852.9 1035.9 1853.5 1035.5 1854.1 1038.9 1854.7 1036.2 1855.3 1035.2 1856.0 1040.6 1856.6 1035.4 1857.2 1038.1 1857.8 1040.3 1858.4 1036.4 1859.0 1036.6 1859.6 1037.5 1860.2 1038.0 1860.8 1036.0 1861.4 1039.1 1862.1 1041.9 1862.7 1041.1 1863.3 1039.9 1863.9 1036.6 1864.5 1040.8 1865.1 1034.6 1865.7 1038.4 1866.3 1039.2 1866.9 1040.0 1867.5 1041.4 1868.2 1039.1 1868.8 1038.8 1869.4 1039.9 1870.0 1040.9 1870.6 1035.6 1871.2 1040.0 1871.8 1040.0 1872.4 1037.4 1873.0 1040.3 1873.6 1040.0 1874.3 1034.6 1874.9 1040.0 1875.5 1036.0 1876.1 1033.9 1876.7 1035.9 1877.3 1040.7 1877.9 1036.5 1878.5 1041.0 1879.1 1037.7 1879.7 1036.1 1880.4 1040.1 1881.0 1035.7 1881.6 1038.8 1882.2 1034.5 1882.8 1035.4 1883.4 1038.1 1884.0 1036.3 1884.6 1034.6 1885.2 1037.4 1885.8 1039.4 1886.5 1040.4 1887.1 1040.9 1887.7 1035.7 1888.3 1040.6 1888.9 1038.6 1889.5 1040.7 1890.1 1038.1 1890.7 1038.6 1891.3 1042.0 1891.9 1039.9 1892.6 1039.7 1893.2 1041.4 1893.8 1038.3 1894.4 1042.1 1895.0 1041.0 1895.6 1042.1 1896.2 1043.4 1896.8 1041.7 1897.4 1041.6 1898.0 1042.6 1898.7 1041.5 1899.3 1043.7 1899.9 1040.7 1900.5 1038.9 1901.1 1038.8 1901.7 1043.3 1902.3 1039.6 1902.9 1038.3 1903.5 1040.5 1904.1 1041.4 1904.8 1042.0 1905.4 1037.8 1906.0 1040.4 1906.6 1042.8 1907.2 1040.6 1907.8 1038.8 1908.4 1043.2 1909.0 1038.7 1909.6 1037.2 1910.2 1039.5 1910.9 1039.8 1911.5 1040.3 1912.1 1040.2 1912.7 1040.0 1913.3 1037.5 1913.9 1038.6 1914.5 1039.0 1915.1 1039.3 1915.7 1038.8 1916.3 1035.6 1917.0 1038.7 1917.6 1039.0 1918.2 1040.0 1918.8 1039.0 1919.4 1033.4 1920.0 1040.6 1920.6 1036.8 1921.2 1037.8 1921.8 1034.0 1922.4 1036.3 1923.1 1034.9 1923.7 1036.4 1924.3 1036.4 1924.9 1036.0 1925.5 1037.4 1926.1 1041.0 1926.7 1038.3 1927.3 1036.6 1927.9 1035.6 1928.5 1037.4 1929.2 1042.4 1929.8 1042.2 1930.4 1041.5 1931.0 1041.1 1931.6 1041.2 1932.2 1034.7 1932.8 1040.8 1933.4 1040.9 1934.0 1036.5 1934.6 1041.4 1935.3 1039.4 1935.9 1035.7 1936.5 1039.9 1937.1 1034.9 1937.7 1038.3 1938.3 1036.7 1938.9 1037.7 1939.5 1039.9 1940.1 1037.0 1940.7 1038.9 1941.4 1034.8 1942.0 1041.1 1942.6 1037.4 1943.2 1035.0 1943.8 1035.6 1944.4 1040.7 1945.0 1034.2 1945.6 1041.1 1946.2 1040.0 1946.8 1036.4 1947.5 1040.7 1948.1 1035.2 1948.7 1039.8 1949.3 1036.1 1949.9 1039.0 1950.5 1034.6 1951.1 1040.3 1951.7 1039.0 1952.3 1041.1 1952.9 1039.4 1953.6 1041.3 1954.2 1038.0 1954.8 1041.2 1955.4 1041.5 1956.0 1035.1 1956.6 1039.3 1957.2 1036.2 1957.8 1040.4 1958.4 1040.6 1959.0 1038.3 1959.7 1035.6 1960.3 1039.1 1960.9 1038.3 1961.5 1034.9 1962.1 1036.7 1962.7 1034.7 1963.3 1037.2 1963.9 1035.6 1964.5 1037.4 1965.1 1038.4 1965.8 1040.3 1966.4 1040.6 1967.0 1036.5 1967.6 1036.1 1968.2 1038.5 1968.8 1038.5 1969.4 1037.1 1970.0 1039.8 1970.6 1036.3 1971.2 1040.9 1971.9 1038.4 1972.5 1039.8 1973.1 1036.6 1973.7 1035.3 1974.3 1039.9 1974.9 1037.9 1975.5 1038.5 1976.1 1040.8 1976.7 1038.0 1977.3 1040.3 1978.0 1036.1 1978.6 1038.1 1979.2 1036.9 1979.8 1034.8 1980.4 1037.3 1981.0 1037.3 1981.6 1038.3 1982.2 1038.4 1982.8 1036.3 1983.4 1036.1 1984.1 1038.5 1984.7 1038.2 1985.3 1036.6 1985.9 1037.9 1986.5 1035.3 1987.1 1035.7 1987.7 1035.9 1988.3 1036.7 1988.9 1039.4 1989.5 1039.9 1990.2 1040.2 1990.8 1038.0 1991.4 1039.5 1992.0 1039.1 1992.6 1035.8 1993.2 1037.0 1993.8 1041.0 1994.4 1035.3 1995.0 1035.2 1995.6 1038.5 1996.3 1037.7 1996.9 1038.6 1997.5 1036.8 1998.1 1039.1 1998.7 1036.7 1999.3 1037.1 1999.9 1038.7 2000.5 1039.8 2001.1 1034.5 2001.7 1035.5 2002.4 1035.3 2003.0 1032.3 2003.6 1038.1 2004.2 1037.2 2004.8 1034.7 2005.4 1034.0 2006.0 1033.8 2006.6 1035.1 2007.2 1034.0 2007.8 1035.7 2008.5 1036.2 2009.1 1037.2 2009.7 1038.8 2010.3 1038.8 2010.9 1034.7 2011.5 1034.5 2012.1 1037.4 2012.7 1036.1 2013.3 1032.5 2013.9 1034.6 2014.6 1034.0 2015.2 1036.4 2015.8 1034.3 2016.4 1040.0 2017.0 1040.0 2017.6 1033.7 2018.2 1038.9 2018.8 1041.0 2019.4 1037.2 2020.0 1041.6 2020.7 1035.7 2021.3 1035.9 2021.9 1036.1 2022.5 1037.7 2023.1 1039.0 2023.7 1040.5 2024.3 1035.3 2024.9 1035.2 2025.5 1035.4 2026.1 1040.7 2026.8 1041.3 2027.4 1040.1 2028.0 1035.6 2028.6 1036.1 2029.2 1037.7 2029.8 1038.9 2030.4 1039.3 2031.0 1038.8 2031.6 1034.7 2032.2 1039.3 2032.9 1038.7 2033.5 1035.1 2034.1 1034.3 2034.7 1032.5 2035.3 1033.9 2035.9 1033.9 2036.5 1035.2 2037.1 1035.9 2037.7 1038.3 2038.3 1035.0 2039.0 1033.7 2039.6 1037.4 2040.2 1031.9 2040.8 1033.0 2041.4 1036.2 2042.0 1036.2 2042.6 1035.2" stroke="#f00" stroke-width="10"/>
</g>
<g stroke="#000" stroke-width="10" stroke-linecap="round">
<line x1="211.0" y1="1134" x2="211.0" y2="1158"/><line x1="363.7" y1="1134" x2="363.7" y2="1146"/><line x1="516.3" y1="1134" x2="516.3" y2="1158"/><line x1="669.0" y1="1134" x2="669.0" y2="1146"/><line x1="821.7" y1="1134" x2="821.7" y2="1158"/><line x1="974.3" y1="1134" x2="974.3" y2="1146"/><line x1="1127.0" y1="1134" x2="1127.0" y2="1158"/><line x1="1279.7" y1="1134" x2="1279.7" y2="1146"/><line x1="1432.3" y1="1134" x2="1432.3" y2="1158"/><line x1="1585.0" y1="1134" x2="1585.0" y2="1146"/><line x1="1737.7" y1="1134" x2="1737.7" y2="1158"/><line x1="1890.3" y1="1134" x2="1890.3" y2="1146"/><line x1="2043.0" y1="1134" x2="2043.0" y2="1158"/>
</g>
<text transform="translate(211.0 1248.9) scale(1 1.0796)" text-anchor="middle" font-size="94.38">10</text><text transform="translate(516.3 1248.9) scale(1 1.0796)" text-anchor="middle" font-size="94.38">20</text><text transform="translate(821.7 1248.9) scale(1 1.0796)" text-anchor="middle" font-size="94.38">30</text><text transform="translate(1127.0 1248.9) scale(1 1.0796)" text-anchor="middle" font-size="94.38">40</text><text transform="translate(1432.3 1248.9) scale(1 1.0796)" text-anchor="middle" font-size="94.38">50</text><text transform="translate(1737.7 1248.9) scale(1 1.0796)" text-anchor="middle" font-size="94.38">60</text><text transform="translate(2043.0 1248.9) scale(1 1.0796)" text-anchor="middle" font-size="94.38">70</text>
<text transform="translate(89 939) rotate(-90) scale(1 1.0448)" x="-8.99" font-size="97.39">Intensity (a.u.)</text>
<text transform="translate(358.95 113.90) scale(1 1.0519)" font-size="76.21">A:Anatase</text>
<text transform="translate(359.18 207.60) scale(1 1.0352)" font-size="76.66">T:Ti</text>
<text transform="translate(972.32 105.10) scale(1 1.0375)" font-size="70.19">T(002)</text>
<text transform="translate(601.86 606.00) scale(1 1.0399)" font-size="70.03">A(101)</text>
<text transform="translate(833.44 691.30) scale(1 1.0458)" font-size="69.63">T(100)</text>
<text transform="translate(1102.42 422.30) scale(1 1.0406)" font-size="70.40">T(101)</text>
<text transform="translate(1437.63 508.40) scale(1 1.0468)" font-size="69.98">T(102)</text>
<text transform="translate(1761.92 713.10) scale(1 1.0282)" font-size="70.26">T(110)</text>
<text transform="translate(1283.16 726.20) scale(1 1.0482)" font-size="70.03">A(200)</text>
<text><tspan x="841.17" y="1381.75" font-size="95.98">2-theta </tspan><tspan x="1169.74" y="1383.0" font-size="85.87">(</tspan><tspan x="1198.82" y="1381.8" font-size="97.15">degree</tspan><tspan x="1502.56" y="1383.2" font-size="85.87">)</tspan></text>
<text transform="scale(1 1.045)"><tspan x="1533.29" y="133.01" font-size="75.95">TiO</tspan><tspan x="1655.72" y="160.67" font-size="45.36">2</tspan></text>
<text transform="scale(1 1.045)"><tspan x="1535.99" y="246.03" font-size="76.27">TiO</tspan><tspan x="1657.72" y="274.55" font-size="45.36">2</tspan><tspan x="1685" y="245.04" font-size="71.54">/</tspan><tspan x="1705.63" y="245.74" font-size="76.45">PANI</tspan></text>
<g stroke-width="10" stroke-linecap="round">
<line x1="1348.3" y1="114.6" x2="1514.6" y2="114.6" stroke="#000"/>
<line x1="1348.3" y1="233" x2="1514.6" y2="233" stroke="#f00"/>
</g>
</svg>
</body></html>
